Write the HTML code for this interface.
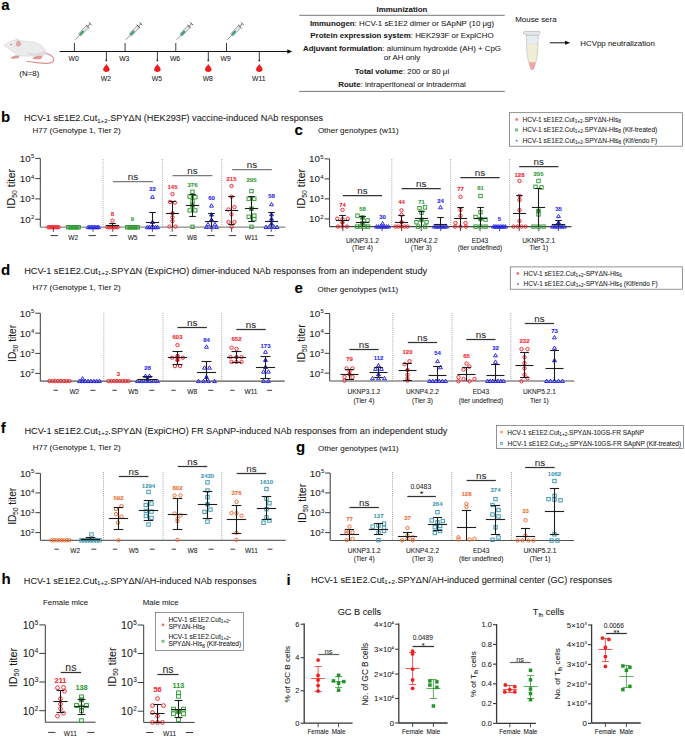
<!DOCTYPE html>
<html><head><meta charset="utf-8"><style>
html,body{margin:0;padding:0;background:#fff;width:685px;height:737px;overflow:hidden}
svg{display:block}
text{font-family:"Liberation Sans",sans-serif}
</style></head><body>
<svg width="685" height="737" viewBox="0 0 685 737">
<rect width="685" height="737" fill="#fff"/>
<text x="1.20" y="9.50" font-size="15" font-weight="bold" fill="#000" stroke="#000" stroke-width="0.07">a</text>
<g>
<path d="M44.6 53.2 C48.5 54 52.5 55.5 53.6 58.6 C54.4 61.4 52 63.2 47.5 63.3 C41 63.3 33 61.8 27.1 61.5" fill="none" stroke="#d9938f" stroke-width="1.25" stroke-linecap="round"/>
<path d="M14.6 41.2 C15.2 39.2 17 38.4 18.2 39.6 C18.8 40.4 18.4 41.6 17.6 42.2 Z" fill="#dedede" stroke="#c8c8c8" stroke-width="0.3"/>
<path d="M5.0 45.2 C6.5 43 9.5 41 13 40.4 C17 39.8 21 40.6 25.4 41.1 C30 41.3 34 41.6 38 43.6 C42.5 45.8 45.8 49 45.9 51.8 C46 54 44.6 55.6 42 56.2 C38 56.6 34.5 56.4 31.5 56.1 C27 56.3 22.5 56 19 55.4 C16.5 54.8 14.8 53.6 14 52.3 C11.5 50.8 9 49.3 7.6 48.2 C6.2 47.5 5.1 46.6 5.0 45.2 Z" fill="#ebebeb" stroke="#c9c9c9" stroke-width="0.35"/>
<path d="M27 52.5 C32 53.8 38 53.6 43.5 51.2 C45.2 50.6 45.8 52.5 44.6 54.3 C43.2 55.6 40 56.3 35 56.3 C31 56.3 28 55.5 27 52.5 Z" fill="#dcdcdc"/>
<path d="M16.4 45.8 C15.8 43.6 16.2 41.6 18 41.1 C20.2 40.7 21.2 42.8 20.7 44.8 C20.2 46.2 17.8 46.8 16.4 45.8 Z" fill="#e2a8a6" stroke="#cf9290" stroke-width="0.3"/>
<path d="M11 57.6 C12.6 56 15.4 55.4 18.2 55.6 C19.8 55.8 19.8 57.3 18.3 58.1 C16 58.8 13 58.8 11.4 58.5 C10.7 58.3 10.6 57.9 11 57.6 Z" fill="#dd9a96"/>
<path d="M33 57.8 C34.8 56 38.5 55.4 41.6 55.8 C42.8 56.5 42.4 58.2 40.6 59 C38.2 59.6 35 59.5 33.4 59.1 C32.7 58.8 32.6 58.2 33 57.8 Z" fill="#dd9a96"/>
<circle cx="11.1" cy="44.6" r="0.65" fill="#c8202a"/>
<path d="M5.2 45.6 L4.4 46.2" stroke="#e6a4a4" stroke-width="0.9"/>
<path d="M6 43.5 L3.8 41.6 M6.2 44.2 L3.6 43.6" stroke="#d0d0d0" stroke-width="0.3"/>
</g>
<text x="29.30" y="75.50" font-size="7.9" text-anchor="middle" fill="#1a1a1a" stroke="#1a1a1a" stroke-width="0.07">(N=8)</text>
<line x1="59.60" y1="51.50" x2="288.00" y2="51.50" stroke="#111" stroke-width="1.0"/>
<path d="M292.2 51.5 L287.3 49.3 L287.3 53.7 Z" fill="#111"/>
<line x1="74.40" y1="43.00" x2="74.40" y2="51.50" stroke="#222" stroke-width="0.9"/>
<text x="73.60" y="60.80" font-size="6.8" text-anchor="middle" fill="#1a1a1a" stroke="#1a1a1a" stroke-width="0.07">W0</text>
<g transform="translate(75.20 39.8) rotate(-47)">
<line x1="0" y1="0" x2="6.5" y2="0" stroke="#555" stroke-width="0.6"/>
<rect x="6.5" y="-1.5" width="11.5" height="3" fill="#e6e6e6" stroke="#666" stroke-width="0.5"/>
<rect x="7" y="-1.1" width="5" height="2.2" fill="#3aa36a"/>
<line x1="18" y1="0" x2="22" y2="0" stroke="#555" stroke-width="0.8"/>
<line x1="18.3" y1="-2.3" x2="18.3" y2="2.3" stroke="#444" stroke-width="0.8"/>
<line x1="22" y1="-2" x2="22" y2="2" stroke="#444" stroke-width="0.8"/>
</g>
<line x1="125.10" y1="43.00" x2="125.10" y2="51.50" stroke="#222" stroke-width="0.9"/>
<text x="124.30" y="60.80" font-size="6.8" text-anchor="middle" fill="#1a1a1a" stroke="#1a1a1a" stroke-width="0.07">W3</text>
<g transform="translate(125.90 39.8) rotate(-47)">
<line x1="0" y1="0" x2="6.5" y2="0" stroke="#555" stroke-width="0.6"/>
<rect x="6.5" y="-1.5" width="11.5" height="3" fill="#e6e6e6" stroke="#666" stroke-width="0.5"/>
<rect x="7" y="-1.1" width="5" height="2.2" fill="#3aa36a"/>
<line x1="18" y1="0" x2="22" y2="0" stroke="#555" stroke-width="0.8"/>
<line x1="18.3" y1="-2.3" x2="18.3" y2="2.3" stroke="#444" stroke-width="0.8"/>
<line x1="22" y1="-2" x2="22" y2="2" stroke="#444" stroke-width="0.8"/>
</g>
<line x1="175.80" y1="43.00" x2="175.80" y2="51.50" stroke="#222" stroke-width="0.9"/>
<text x="175.00" y="60.80" font-size="6.8" text-anchor="middle" fill="#1a1a1a" stroke="#1a1a1a" stroke-width="0.07">W6</text>
<g transform="translate(176.60 39.8) rotate(-47)">
<line x1="0" y1="0" x2="6.5" y2="0" stroke="#555" stroke-width="0.6"/>
<rect x="6.5" y="-1.5" width="11.5" height="3" fill="#e6e6e6" stroke="#666" stroke-width="0.5"/>
<rect x="7" y="-1.1" width="5" height="2.2" fill="#3aa36a"/>
<line x1="18" y1="0" x2="22" y2="0" stroke="#555" stroke-width="0.8"/>
<line x1="18.3" y1="-2.3" x2="18.3" y2="2.3" stroke="#444" stroke-width="0.8"/>
<line x1="22" y1="-2" x2="22" y2="2" stroke="#444" stroke-width="0.8"/>
</g>
<line x1="226.50" y1="43.00" x2="226.50" y2="51.50" stroke="#222" stroke-width="0.9"/>
<text x="225.70" y="60.80" font-size="6.8" text-anchor="middle" fill="#1a1a1a" stroke="#1a1a1a" stroke-width="0.07">W9</text>
<g transform="translate(227.30 39.8) rotate(-47)">
<line x1="0" y1="0" x2="6.5" y2="0" stroke="#555" stroke-width="0.6"/>
<rect x="6.5" y="-1.5" width="11.5" height="3" fill="#e6e6e6" stroke="#666" stroke-width="0.5"/>
<rect x="7" y="-1.1" width="5" height="2.2" fill="#3aa36a"/>
<line x1="18" y1="0" x2="22" y2="0" stroke="#555" stroke-width="0.8"/>
<line x1="18.3" y1="-2.3" x2="18.3" y2="2.3" stroke="#444" stroke-width="0.8"/>
<line x1="22" y1="-2" x2="22" y2="2" stroke="#444" stroke-width="0.8"/>
</g>
<line x1="106.40" y1="51.50" x2="106.40" y2="60.30" stroke="#222" stroke-width="0.9"/>
<circle cx="106.40" cy="60.4" r="0.9" fill="#222"/>
<path d="M106.40 63.9 C107.50 65.8 109.70 67.6 109.70 69.6 C109.70 71.2 108.10 72.0 106.40 72.0 C104.70 72.0 103.10 71.2 103.10 69.6 C103.10 67.6 105.30 65.8 106.40 63.9 Z" fill="#ee1c1c"/>
<text x="105.90" y="81.30" font-size="6.8" text-anchor="middle" fill="#1a1a1a" stroke="#1a1a1a" stroke-width="0.07">W2</text>
<line x1="157.40" y1="51.50" x2="157.40" y2="60.30" stroke="#222" stroke-width="0.9"/>
<circle cx="157.40" cy="60.4" r="0.9" fill="#222"/>
<path d="M157.40 63.9 C158.50 65.8 160.70 67.6 160.70 69.6 C160.70 71.2 159.10 72.0 157.40 72.0 C155.70 72.0 154.10 71.2 154.10 69.6 C154.10 67.6 156.30 65.8 157.40 63.9 Z" fill="#ee1c1c"/>
<text x="156.90" y="81.30" font-size="6.8" text-anchor="middle" fill="#1a1a1a" stroke="#1a1a1a" stroke-width="0.07">W5</text>
<line x1="208.30" y1="51.50" x2="208.30" y2="60.30" stroke="#222" stroke-width="0.9"/>
<circle cx="208.30" cy="60.4" r="0.9" fill="#222"/>
<path d="M208.30 63.9 C209.40 65.8 211.60 67.6 211.60 69.6 C211.60 71.2 210.00 72.0 208.30 72.0 C206.60 72.0 205.00 71.2 205.00 69.6 C205.00 67.6 207.20 65.8 208.30 63.9 Z" fill="#ee1c1c"/>
<text x="207.80" y="81.30" font-size="6.8" text-anchor="middle" fill="#1a1a1a" stroke="#1a1a1a" stroke-width="0.07">W8</text>
<line x1="259.30" y1="51.50" x2="259.30" y2="60.30" stroke="#222" stroke-width="0.9"/>
<circle cx="259.30" cy="60.4" r="0.9" fill="#222"/>
<path d="M259.30 63.9 C260.40 65.8 262.60 67.6 262.60 69.6 C262.60 71.2 261.00 72.0 259.30 72.0 C257.60 72.0 256.00 71.2 256.00 69.6 C256.00 67.6 258.20 65.8 259.30 63.9 Z" fill="#ee1c1c"/>
<text x="258.80" y="81.30" font-size="6.8" text-anchor="middle" fill="#1a1a1a" stroke="#1a1a1a" stroke-width="0.07">W11</text>
<line x1="299.20" y1="15.30" x2="504.80" y2="15.30" stroke="#555" stroke-width="0.8"/>
<line x1="299.20" y1="91.40" x2="504.80" y2="91.40" stroke="#555" stroke-width="0.8"/>
<text x="402.00" y="11.60" font-size="7.9" text-anchor="middle" font-weight="bold" fill="#1a1a1a" stroke="#1a1a1a" stroke-width="0.07">Immunization</text>
<text x="402.00" y="25.60" font-size="7.9" text-anchor="middle" fill="#1a1a1a" stroke="#1a1a1a" stroke-width="0.07"><tspan font-weight="bold">Immunogen</tspan>: HCV-1 sE1E2 dimer or SApNP (10 μg)</text>
<text x="402.00" y="38.20" font-size="7.9" text-anchor="middle" fill="#1a1a1a" stroke="#1a1a1a" stroke-width="0.07"><tspan font-weight="bold">Protein expression system</tspan>: HEK293F or ExpiCHO</text>
<text x="402.00" y="51.30" font-size="7.9" text-anchor="middle" fill="#1a1a1a" stroke="#1a1a1a" stroke-width="0.07"><tspan font-weight="bold">Adjuvant formulation</tspan>: aluminum hydroxide (AH) + CpG</text>
<text x="402.00" y="74.30" font-size="7.9" text-anchor="middle" fill="#1a1a1a" stroke="#1a1a1a" stroke-width="0.07"><tspan font-weight="bold">Total volume</tspan>: 200 or 80 μl</text>
<text x="402.00" y="86.80" font-size="7.9" text-anchor="middle" fill="#1a1a1a" stroke="#1a1a1a" stroke-width="0.07"><tspan font-weight="bold">Route</tspan>: intraperitoneal or intradermal</text>
<text x="402.00" y="60.30" font-size="7.9" text-anchor="middle" fill="#1a1a1a" stroke="#1a1a1a" stroke-width="0.07">or AH only</text>
<text x="515.30" y="21.50" font-size="7.9" fill="#1a1a1a" stroke="#1a1a1a" stroke-width="0.07">Mouse sera</text>
<defs><clipPath id="tubeclip"><path d="M526.3 34.6 L538.3 34.6 L537.9 50 C537.4 57 535.6 64 533.6 69.4 L531.0 69.4 C529.0 64 527.2 57 526.7 50 Z"/></clipPath></defs>
<g>
<g clip-path="url(#tubeclip)">
<rect x="525" y="34" width="15" height="10.2" fill="#e6eef0"/>
<rect x="525" y="44.2" width="15" height="18" fill="#efefd6"/>
<rect x="525" y="62.2" width="15" height="8" fill="#f4a2a6"/>
<line x1="525" y1="44.2" x2="540" y2="44.2" stroke="#d8d8b8" stroke-width="0.4"/>
</g>
<path d="M526.3 34.6 L538.3 34.6 L537.9 50 C537.4 57 535.6 64 533.6 69.4 L531.0 69.4 C529.0 64 527.2 57 526.7 50 Z" fill="none" stroke="#b4b4b4" stroke-width="0.55"/>
<path d="M523.2 32.2 L524.2 31.4 L539.6 31.4 L539.9 33.8 L538.6 35.2 L526.0 35.2 L524.6 33.8 L523.2 33.6 Z" fill="#e4e8ea" stroke="#9a9a9a" stroke-width="0.5"/>
<line x1="535.6" y1="44.6" x2="537.4" y2="44.6" stroke="#aaa" stroke-width="0.35"/>
<line x1="535.6" y1="51.4" x2="537.2" y2="51.4" stroke="#aaa" stroke-width="0.35"/>
</g>
<line x1="549.70" y1="42.80" x2="566.50" y2="42.80" stroke="#111" stroke-width="1.0"/>
<path d="M570.3 42.8 L565 40.8 L565 44.8 Z" fill="#111"/>
<text x="580.30" y="45.50" font-size="7.9" fill="#1a1a1a" stroke="#1a1a1a" stroke-width="0.07">HCVpp neutralization</text>
<text x="1.00" y="121.80" font-size="15" font-weight="bold" fill="#000" stroke="#000" stroke-width="0.07">b</text>
<text x="24.00" y="120.80" font-size="9.1" fill="#1a1a1a" stroke="#1a1a1a" stroke-width="0.07" textLength="299.2" lengthAdjust="spacingAndGlyphs">HCV-1 sE1E2.Cut<tspan font-size="6.19" dy="1.8">1+2</tspan><tspan dy="-1.8">.SPYΔN (HEK293F) vaccine-induced NAb responses</tspan></text>
<text x="32.60" y="132.80" font-size="8.0" fill="#1a1a1a" stroke="#1a1a1a" stroke-width="0.07">H77 (Genotype 1, Tier 2)</text>
<line x1="40.30" y1="158.40" x2="40.30" y2="227.20" stroke="#3a3a3a" stroke-width="1.0"/>
<line x1="35.30" y1="158.40" x2="40.30" y2="158.40" stroke="#3a3a3a" stroke-width="1.0"/>
<text x="34.30" y="161.93" font-size="9.8" text-anchor="end" fill="#1a1a1a" stroke="#1a1a1a" stroke-width="0.07">10<tspan font-size="5.88" dx="0.3" dy="-3.63">5</tspan></text>
<line x1="35.30" y1="178.60" x2="40.30" y2="178.60" stroke="#3a3a3a" stroke-width="1.0"/>
<text x="34.30" y="182.13" font-size="9.8" text-anchor="end" fill="#1a1a1a" stroke="#1a1a1a" stroke-width="0.07">10<tspan font-size="5.88" dx="0.3" dy="-3.63">4</tspan></text>
<line x1="35.30" y1="198.90" x2="40.30" y2="198.90" stroke="#3a3a3a" stroke-width="1.0"/>
<text x="34.30" y="202.43" font-size="9.8" text-anchor="end" fill="#1a1a1a" stroke="#1a1a1a" stroke-width="0.07">10<tspan font-size="5.88" dx="0.3" dy="-3.63">3</tspan></text>
<line x1="35.30" y1="219.20" x2="40.30" y2="219.20" stroke="#3a3a3a" stroke-width="1.0"/>
<text x="34.30" y="222.73" font-size="9.8" text-anchor="end" fill="#1a1a1a" stroke="#1a1a1a" stroke-width="0.07">10<tspan font-size="5.88" dx="0.3" dy="-3.63">2</tspan></text>
<line x1="40.30" y1="227.20" x2="285.50" y2="227.20" stroke="#8a8a8a" stroke-width="1.3"/>
<line x1="103.00" y1="159.00" x2="103.00" y2="227.20" stroke="#8a8a8a" stroke-width="0.75" stroke-dasharray="1 1.1"/>
<line x1="162.40" y1="159.00" x2="162.40" y2="227.20" stroke="#8a8a8a" stroke-width="0.75" stroke-dasharray="1 1.1"/>
<line x1="221.80" y1="159.00" x2="221.80" y2="227.20" stroke="#8a8a8a" stroke-width="0.75" stroke-dasharray="1 1.1"/>
<text x="0.00" y="0.00" font-size="11.0" text-anchor="middle" fill="#1a1a1a" stroke="#1a1a1a" stroke-width="0.07" transform="translate(15.30 188.80) rotate(-90)">ID<tspan font-size="6.82" dy="2">50</tspan><tspan dy="-2"> titer</tspan></text>
<circle cx="48.30" cy="227.20" r="1.7" fill="none" stroke="#f5222a" stroke-width="0.95"/>
<circle cx="49.79" cy="227.20" r="1.7" fill="none" stroke="#f5222a" stroke-width="0.95"/>
<circle cx="51.27" cy="227.20" r="1.7" fill="none" stroke="#f5222a" stroke-width="0.95"/>
<circle cx="52.76" cy="227.20" r="1.7" fill="none" stroke="#f5222a" stroke-width="0.95"/>
<circle cx="54.24" cy="227.20" r="1.7" fill="none" stroke="#f5222a" stroke-width="0.95"/>
<circle cx="55.73" cy="227.20" r="1.7" fill="none" stroke="#f5222a" stroke-width="0.95"/>
<circle cx="57.21" cy="227.20" r="1.7" fill="none" stroke="#f5222a" stroke-width="0.95"/>
<circle cx="58.70" cy="227.20" r="1.7" fill="none" stroke="#f5222a" stroke-width="0.95"/>
<rect x="66.60" y="225.50" width="3.40" height="3.40" fill="none" stroke="#2f9a32" stroke-width="0.95"/>
<rect x="68.09" y="225.50" width="3.40" height="3.40" fill="none" stroke="#2f9a32" stroke-width="0.95"/>
<rect x="69.57" y="225.50" width="3.40" height="3.40" fill="none" stroke="#2f9a32" stroke-width="0.95"/>
<rect x="71.06" y="225.50" width="3.40" height="3.40" fill="none" stroke="#2f9a32" stroke-width="0.95"/>
<rect x="72.54" y="225.50" width="3.40" height="3.40" fill="none" stroke="#2f9a32" stroke-width="0.95"/>
<rect x="74.03" y="225.50" width="3.40" height="3.40" fill="none" stroke="#2f9a32" stroke-width="0.95"/>
<rect x="75.51" y="225.50" width="3.40" height="3.40" fill="none" stroke="#2f9a32" stroke-width="0.95"/>
<rect x="77.00" y="225.50" width="3.40" height="3.40" fill="none" stroke="#2f9a32" stroke-width="0.95"/>
<path d="M88.30 225.24L90.25 228.67L86.34 228.67Z" fill="none" stroke="#2424f0" stroke-width="0.95"/>
<path d="M89.79 225.24L91.74 228.67L87.83 228.67Z" fill="none" stroke="#2424f0" stroke-width="0.95"/>
<path d="M91.27 225.24L93.23 228.67L89.32 228.67Z" fill="none" stroke="#2424f0" stroke-width="0.95"/>
<path d="M92.76 225.24L94.71 228.67L90.80 228.67Z" fill="none" stroke="#2424f0" stroke-width="0.95"/>
<path d="M94.24 225.24L96.20 228.67L92.29 228.67Z" fill="none" stroke="#2424f0" stroke-width="0.95"/>
<path d="M95.73 225.24L97.68 228.67L93.77 228.67Z" fill="none" stroke="#2424f0" stroke-width="0.95"/>
<path d="M97.21 225.24L99.17 228.67L95.26 228.67Z" fill="none" stroke="#2424f0" stroke-width="0.95"/>
<path d="M98.70 225.24L100.66 228.67L96.75 228.67Z" fill="none" stroke="#2424f0" stroke-width="0.95"/>
<line x1="53.40" y1="227.20" x2="53.40" y2="231.80" stroke="#3a3a3a" stroke-width="0.9"/>
<line x1="93.00" y1="227.20" x2="93.00" y2="231.80" stroke="#3a3a3a" stroke-width="0.9"/>
<line x1="112.80" y1="227.20" x2="112.80" y2="231.80" stroke="#3a3a3a" stroke-width="0.9"/>
<line x1="152.40" y1="227.20" x2="152.40" y2="231.80" stroke="#3a3a3a" stroke-width="0.9"/>
<line x1="172.20" y1="227.20" x2="172.20" y2="231.80" stroke="#3a3a3a" stroke-width="0.9"/>
<line x1="211.80" y1="227.20" x2="211.80" y2="231.80" stroke="#3a3a3a" stroke-width="0.9"/>
<line x1="231.60" y1="227.20" x2="231.60" y2="231.80" stroke="#3a3a3a" stroke-width="0.9"/>
<line x1="271.20" y1="227.20" x2="271.20" y2="231.80" stroke="#3a3a3a" stroke-width="0.9"/>
<circle cx="107.30" cy="227.20" r="1.7" fill="none" stroke="#f5222a" stroke-width="0.95"/>
<circle cx="109.03" cy="227.20" r="1.7" fill="none" stroke="#f5222a" stroke-width="0.95"/>
<circle cx="110.77" cy="227.20" r="1.7" fill="none" stroke="#f5222a" stroke-width="0.95"/>
<circle cx="112.50" cy="227.20" r="1.7" fill="none" stroke="#f5222a" stroke-width="0.95"/>
<circle cx="114.23" cy="227.20" r="1.7" fill="none" stroke="#f5222a" stroke-width="0.95"/>
<circle cx="115.97" cy="227.20" r="1.7" fill="none" stroke="#f5222a" stroke-width="0.95"/>
<circle cx="117.70" cy="227.20" r="1.7" fill="none" stroke="#f5222a" stroke-width="0.95"/>
<circle cx="112.50" cy="220.60" r="1.7" fill="none" stroke="#f5222a" stroke-width="0.95"/>
<line x1="112.50" y1="223.50" x2="112.50" y2="227.20" stroke="#1e1e1e" stroke-width="1.1"/>
<line x1="105.90" y1="225.50" x2="119.10" y2="225.50" stroke="#1e1e1e" stroke-width="1.1"/>
<line x1="109.20" y1="223.50" x2="115.80" y2="223.50" stroke="#1e1e1e" stroke-width="1.1"/>
<text x="112.50" y="215.70" font-size="6.0" text-anchor="middle" font-weight="bold" fill="#f5222a" stroke="#f5222a" stroke-width="0.07">8</text>
<rect x="125.60" y="225.50" width="3.40" height="3.40" fill="none" stroke="#2f9a32" stroke-width="0.95"/>
<rect x="127.09" y="225.50" width="3.40" height="3.40" fill="none" stroke="#2f9a32" stroke-width="0.95"/>
<rect x="128.57" y="225.50" width="3.40" height="3.40" fill="none" stroke="#2f9a32" stroke-width="0.95"/>
<rect x="130.06" y="225.50" width="3.40" height="3.40" fill="none" stroke="#2f9a32" stroke-width="0.95"/>
<rect x="131.54" y="225.50" width="3.40" height="3.40" fill="none" stroke="#2f9a32" stroke-width="0.95"/>
<rect x="133.03" y="225.50" width="3.40" height="3.40" fill="none" stroke="#2f9a32" stroke-width="0.95"/>
<rect x="134.51" y="225.50" width="3.40" height="3.40" fill="none" stroke="#2f9a32" stroke-width="0.95"/>
<rect x="136.00" y="225.50" width="3.40" height="3.40" fill="none" stroke="#2f9a32" stroke-width="0.95"/>
<text x="132.50" y="221.00" font-size="6.0" text-anchor="middle" font-weight="bold" fill="#2f9a32" stroke="#2f9a32" stroke-width="0.07">9</text>
<path d="M147.30 225.24L149.26 228.67L145.34 228.67Z" fill="none" stroke="#2424f0" stroke-width="0.95"/>
<path d="M149.38 225.24L151.34 228.67L147.42 228.67Z" fill="none" stroke="#2424f0" stroke-width="0.95"/>
<path d="M151.46 225.24L153.42 228.67L149.50 228.67Z" fill="none" stroke="#2424f0" stroke-width="0.95"/>
<path d="M153.54 225.24L155.50 228.67L151.58 228.67Z" fill="none" stroke="#2424f0" stroke-width="0.95"/>
<path d="M155.62 225.24L157.58 228.67L153.66 228.67Z" fill="none" stroke="#2424f0" stroke-width="0.95"/>
<path d="M157.70 225.24L159.66 228.67L155.74 228.67Z" fill="none" stroke="#2424f0" stroke-width="0.95"/>
<path d="M152.50 194.94L154.46 198.37L150.54 198.37Z" fill="none" stroke="#2424f0" stroke-width="0.95"/>
<path d="M152.50 220.14L154.46 223.57L150.54 223.57Z" fill="#2424f0" stroke="#2424f0" stroke-width="0.95"/>
<line x1="152.50" y1="212.50" x2="152.50" y2="227.20" stroke="#1e1e1e" stroke-width="1.1"/>
<line x1="145.90" y1="222.50" x2="159.10" y2="222.50" stroke="#1e1e1e" stroke-width="1.1"/>
<line x1="149.20" y1="212.50" x2="155.80" y2="212.50" stroke="#1e1e1e" stroke-width="1.1"/>
<text x="152.50" y="190.50" font-size="6.0" text-anchor="middle" font-weight="bold" fill="#2424f0" stroke="#2424f0" stroke-width="0.07">22</text>
<circle cx="172.50" cy="194.10" r="1.7" fill="none" stroke="#f5222a" stroke-width="0.95"/>
<circle cx="170.00" cy="201.90" r="1.7" fill="none" stroke="#f5222a" stroke-width="0.95"/>
<circle cx="175.00" cy="202.60" r="1.7" fill="none" stroke="#f5222a" stroke-width="0.95"/>
<circle cx="172.50" cy="213.30" r="1.7" fill="#f5222a" stroke="#f5222a" stroke-width="0.95"/>
<circle cx="172.50" cy="217.40" r="1.7" fill="none" stroke="#f5222a" stroke-width="0.95"/>
<circle cx="172.50" cy="221.20" r="1.7" fill="none" stroke="#f5222a" stroke-width="0.95"/>
<circle cx="169.50" cy="226.60" r="1.7" fill="none" stroke="#f5222a" stroke-width="0.95"/>
<circle cx="175.50" cy="226.60" r="1.7" fill="none" stroke="#f5222a" stroke-width="0.95"/>
<line x1="172.50" y1="201.50" x2="172.50" y2="227.20" stroke="#1e1e1e" stroke-width="1.1"/>
<line x1="165.90" y1="213.50" x2="179.10" y2="213.50" stroke="#1e1e1e" stroke-width="1.1"/>
<line x1="169.20" y1="201.50" x2="175.80" y2="201.50" stroke="#1e1e1e" stroke-width="1.1"/>
<text x="172.50" y="189.00" font-size="6.0" text-anchor="middle" font-weight="bold" fill="#f5222a" stroke="#f5222a" stroke-width="0.07">145</text>
<rect x="190.80" y="190.10" width="3.40" height="3.40" fill="none" stroke="#2f9a32" stroke-width="0.95"/>
<rect x="188.00" y="194.90" width="3.40" height="3.40" fill="none" stroke="#2f9a32" stroke-width="0.95"/>
<rect x="193.60" y="195.50" width="3.40" height="3.40" fill="none" stroke="#2f9a32" stroke-width="0.95"/>
<rect x="190.80" y="199.60" width="3.40" height="3.40" fill="none" stroke="#2f9a32" stroke-width="0.95"/>
<rect x="190.80" y="203.80" width="3.40" height="3.40" fill="#2f9a32" stroke="#2f9a32" stroke-width="0.95"/>
<rect x="188.00" y="208.70" width="3.40" height="3.40" fill="none" stroke="#2f9a32" stroke-width="0.95"/>
<rect x="193.60" y="208.70" width="3.40" height="3.40" fill="none" stroke="#2f9a32" stroke-width="0.95"/>
<rect x="190.80" y="225.10" width="3.40" height="3.40" fill="none" stroke="#2f9a32" stroke-width="0.95"/>
<line x1="192.50" y1="194.50" x2="192.50" y2="216.50" stroke="#1e1e1e" stroke-width="1.1"/>
<line x1="185.90" y1="205.50" x2="199.10" y2="205.50" stroke="#1e1e1e" stroke-width="1.1"/>
<line x1="189.20" y1="194.50" x2="195.80" y2="194.50" stroke="#1e1e1e" stroke-width="1.1"/>
<line x1="189.20" y1="216.50" x2="195.80" y2="216.50" stroke="#1e1e1e" stroke-width="1.1"/>
<text x="192.50" y="186.70" font-size="6.0" text-anchor="middle" font-weight="bold" fill="#2f9a32" stroke="#2f9a32" stroke-width="0.07">376</text>
<path d="M211.50 203.74L213.46 207.17L209.54 207.17Z" fill="none" stroke="#2424f0" stroke-width="0.95"/>
<path d="M211.50 212.64L213.46 216.07L209.54 216.07Z" fill="#2424f0" stroke="#2424f0" stroke-width="0.95"/>
<path d="M211.50 217.74L213.46 221.17L209.54 221.17Z" fill="#2424f0" stroke="#2424f0" stroke-width="0.95"/>
<path d="M208.00 222.34L209.96 225.77L206.04 225.77Z" fill="none" stroke="#2424f0" stroke-width="0.95"/>
<path d="M215.00 222.34L216.96 225.77L213.04 225.77Z" fill="none" stroke="#2424f0" stroke-width="0.95"/>
<path d="M206.50 225.04L208.46 228.47L204.54 228.47Z" fill="none" stroke="#2424f0" stroke-width="0.95"/>
<path d="M211.50 225.04L213.46 228.47L209.54 228.47Z" fill="none" stroke="#2424f0" stroke-width="0.95"/>
<path d="M216.50 225.04L218.46 228.47L214.54 228.47Z" fill="none" stroke="#2424f0" stroke-width="0.95"/>
<line x1="211.50" y1="213.50" x2="211.50" y2="227.20" stroke="#1e1e1e" stroke-width="1.1"/>
<line x1="204.90" y1="221.50" x2="218.10" y2="221.50" stroke="#1e1e1e" stroke-width="1.1"/>
<line x1="208.20" y1="213.50" x2="214.80" y2="213.50" stroke="#1e1e1e" stroke-width="1.1"/>
<text x="211.50" y="200.40" font-size="6.0" text-anchor="middle" font-weight="bold" fill="#2424f0" stroke="#2424f0" stroke-width="0.07">60</text>
<circle cx="231.50" cy="186.00" r="1.7" fill="none" stroke="#f5222a" stroke-width="0.95"/>
<circle cx="231.50" cy="196.70" r="1.7" fill="none" stroke="#f5222a" stroke-width="0.95"/>
<circle cx="234.50" cy="207.10" r="1.7" fill="none" stroke="#f5222a" stroke-width="0.95"/>
<circle cx="228.50" cy="209.50" r="1.7" fill="none" stroke="#f5222a" stroke-width="0.95"/>
<circle cx="231.50" cy="214.40" r="1.7" fill="none" stroke="#f5222a" stroke-width="0.95"/>
<circle cx="228.50" cy="222.00" r="1.7" fill="none" stroke="#f5222a" stroke-width="0.95"/>
<circle cx="234.50" cy="222.00" r="1.7" fill="none" stroke="#f5222a" stroke-width="0.95"/>
<circle cx="231.50" cy="226.80" r="1.7" fill="none" stroke="#f5222a" stroke-width="0.95"/>
<line x1="231.50" y1="196.50" x2="231.50" y2="224.50" stroke="#1e1e1e" stroke-width="1.1"/>
<line x1="224.90" y1="210.50" x2="238.10" y2="210.50" stroke="#1e1e1e" stroke-width="1.1"/>
<line x1="228.20" y1="196.50" x2="234.80" y2="196.50" stroke="#1e1e1e" stroke-width="1.1"/>
<line x1="228.20" y1="224.50" x2="234.80" y2="224.50" stroke="#1e1e1e" stroke-width="1.1"/>
<text x="231.50" y="181.40" font-size="6.0" text-anchor="middle" font-weight="bold" fill="#f5222a" stroke="#f5222a" stroke-width="0.07">215</text>
<rect x="249.80" y="189.40" width="3.40" height="3.40" fill="none" stroke="#2f9a32" stroke-width="0.95"/>
<rect x="247.00" y="197.00" width="3.40" height="3.40" fill="none" stroke="#2f9a32" stroke-width="0.95"/>
<rect x="252.60" y="197.00" width="3.40" height="3.40" fill="none" stroke="#2f9a32" stroke-width="0.95"/>
<rect x="249.80" y="207.00" width="3.40" height="3.40" fill="#2f9a32" stroke="#2f9a32" stroke-width="0.95"/>
<rect x="247.00" y="215.10" width="3.40" height="3.40" fill="none" stroke="#2f9a32" stroke-width="0.95"/>
<rect x="252.60" y="213.90" width="3.40" height="3.40" fill="none" stroke="#2f9a32" stroke-width="0.95"/>
<rect x="252.60" y="217.50" width="3.40" height="3.40" fill="none" stroke="#2f9a32" stroke-width="0.95"/>
<rect x="249.80" y="225.10" width="3.40" height="3.40" fill="none" stroke="#2f9a32" stroke-width="0.95"/>
<line x1="251.50" y1="196.50" x2="251.50" y2="221.50" stroke="#1e1e1e" stroke-width="1.1"/>
<line x1="244.90" y1="208.50" x2="258.10" y2="208.50" stroke="#1e1e1e" stroke-width="1.1"/>
<line x1="248.20" y1="196.50" x2="254.80" y2="196.50" stroke="#1e1e1e" stroke-width="1.1"/>
<line x1="248.20" y1="221.50" x2="254.80" y2="221.50" stroke="#1e1e1e" stroke-width="1.1"/>
<text x="251.50" y="182.30" font-size="6.0" text-anchor="middle" font-weight="bold" fill="#2f9a32" stroke="#2f9a32" stroke-width="0.07">295</text>
<path d="M271.50 202.34L273.45 205.77L269.55 205.77Z" fill="none" stroke="#2424f0" stroke-width="0.95"/>
<path d="M271.50 212.44L273.45 215.87L269.55 215.87Z" fill="#2424f0" stroke="#2424f0" stroke-width="0.95"/>
<path d="M271.50 216.84L273.45 220.27L269.55 220.27Z" fill="#2424f0" stroke="#2424f0" stroke-width="0.95"/>
<path d="M271.50 221.54L273.45 224.97L269.55 224.97Z" fill="#2424f0" stroke="#2424f0" stroke-width="0.95"/>
<path d="M266.00 225.04L267.95 228.47L264.05 228.47Z" fill="none" stroke="#2424f0" stroke-width="0.95"/>
<path d="M269.00 225.04L270.95 228.47L267.05 228.47Z" fill="none" stroke="#2424f0" stroke-width="0.95"/>
<path d="M274.00 225.04L275.95 228.47L272.05 228.47Z" fill="none" stroke="#2424f0" stroke-width="0.95"/>
<path d="M277.00 225.04L278.95 228.47L275.05 228.47Z" fill="none" stroke="#2424f0" stroke-width="0.95"/>
<line x1="271.50" y1="212.50" x2="271.50" y2="227.20" stroke="#1e1e1e" stroke-width="1.1"/>
<line x1="264.90" y1="221.50" x2="278.10" y2="221.50" stroke="#1e1e1e" stroke-width="1.1"/>
<line x1="268.20" y1="212.50" x2="274.80" y2="212.50" stroke="#1e1e1e" stroke-width="1.1"/>
<text x="271.50" y="198.00" font-size="6.0" text-anchor="middle" font-weight="bold" fill="#2424f0" stroke="#2424f0" stroke-width="0.07">58</text>
<line x1="112.90" y1="181.50" x2="152.90" y2="181.50" stroke="#7a7a7a" stroke-width="1.25"/>
<text x="132.90" y="180.40" font-size="9.8" text-anchor="middle" fill="#2a2a2a" stroke="#2a2a2a" stroke-width="0.07">ns</text>
<line x1="172.60" y1="175.50" x2="212.40" y2="175.50" stroke="#7a7a7a" stroke-width="1.25"/>
<text x="192.50" y="174.40" font-size="9.8" text-anchor="middle" fill="#2a2a2a" stroke="#2a2a2a" stroke-width="0.07">ns</text>
<line x1="232.20" y1="169.50" x2="271.80" y2="169.50" stroke="#7a7a7a" stroke-width="1.25"/>
<text x="252.00" y="168.40" font-size="9.8" text-anchor="middle" fill="#2a2a2a" stroke="#2a2a2a" stroke-width="0.07">ns</text>
<text x="73.20" y="239.80" font-size="6.6" text-anchor="middle" fill="#1a1a1a" stroke="#1a1a1a" stroke-width="0.07">W2</text>
<line x1="50.50" y1="235.60" x2="57.90" y2="235.60" stroke="#3a3a3a" stroke-width="1.0"/>
<line x1="88.50" y1="235.60" x2="95.90" y2="235.60" stroke="#3a3a3a" stroke-width="1.0"/>
<text x="132.60" y="239.80" font-size="6.6" text-anchor="middle" fill="#1a1a1a" stroke="#1a1a1a" stroke-width="0.07">W5</text>
<line x1="109.90" y1="235.60" x2="117.30" y2="235.60" stroke="#3a3a3a" stroke-width="1.0"/>
<line x1="147.90" y1="235.60" x2="155.30" y2="235.60" stroke="#3a3a3a" stroke-width="1.0"/>
<text x="192.00" y="239.80" font-size="6.6" text-anchor="middle" fill="#1a1a1a" stroke="#1a1a1a" stroke-width="0.07">W8</text>
<line x1="169.30" y1="235.60" x2="176.70" y2="235.60" stroke="#3a3a3a" stroke-width="1.0"/>
<line x1="207.30" y1="235.60" x2="214.70" y2="235.60" stroke="#3a3a3a" stroke-width="1.0"/>
<text x="251.40" y="239.80" font-size="6.6" text-anchor="middle" fill="#1a1a1a" stroke="#1a1a1a" stroke-width="0.07">W11</text>
<line x1="228.70" y1="235.60" x2="236.10" y2="235.60" stroke="#3a3a3a" stroke-width="1.0"/>
<line x1="266.70" y1="235.60" x2="274.10" y2="235.60" stroke="#3a3a3a" stroke-width="1.0"/>
<text x="294.60" y="135.40" font-size="15" font-weight="bold" fill="#000" stroke="#000" stroke-width="0.07">c</text>
<text x="317.90" y="133.30" font-size="8.0" fill="#1a1a1a" stroke="#1a1a1a" stroke-width="0.07">Other genotypes (w11)</text>
<line x1="329.60" y1="158.90" x2="329.60" y2="226.60" stroke="#3a3a3a" stroke-width="1.0"/>
<line x1="324.60" y1="158.90" x2="329.60" y2="158.90" stroke="#3a3a3a" stroke-width="1.0"/>
<text x="323.60" y="162.43" font-size="9.8" text-anchor="end" fill="#1a1a1a" stroke="#1a1a1a" stroke-width="0.07">10<tspan font-size="5.88" dx="0.3" dy="-3.63">5</tspan></text>
<line x1="324.60" y1="178.90" x2="329.60" y2="178.90" stroke="#3a3a3a" stroke-width="1.0"/>
<text x="323.60" y="182.43" font-size="9.8" text-anchor="end" fill="#1a1a1a" stroke="#1a1a1a" stroke-width="0.07">10<tspan font-size="5.88" dx="0.3" dy="-3.63">4</tspan></text>
<line x1="324.60" y1="198.90" x2="329.60" y2="198.90" stroke="#3a3a3a" stroke-width="1.0"/>
<text x="323.60" y="202.43" font-size="9.8" text-anchor="end" fill="#1a1a1a" stroke="#1a1a1a" stroke-width="0.07">10<tspan font-size="5.88" dx="0.3" dy="-3.63">3</tspan></text>
<line x1="324.60" y1="218.90" x2="329.60" y2="218.90" stroke="#3a3a3a" stroke-width="1.0"/>
<text x="323.60" y="222.43" font-size="9.8" text-anchor="end" fill="#1a1a1a" stroke="#1a1a1a" stroke-width="0.07">10<tspan font-size="5.88" dx="0.3" dy="-3.63">2</tspan></text>
<line x1="329.60" y1="226.60" x2="571.40" y2="226.60" stroke="#444" stroke-width="1.1"/>
<line x1="391.80" y1="159.00" x2="391.80" y2="226.60" stroke="#8a8a8a" stroke-width="0.75" stroke-dasharray="1 1.1"/>
<line x1="450.60" y1="159.00" x2="450.60" y2="226.60" stroke="#8a8a8a" stroke-width="0.75" stroke-dasharray="1 1.1"/>
<line x1="509.60" y1="159.00" x2="509.60" y2="226.60" stroke="#8a8a8a" stroke-width="0.75" stroke-dasharray="1 1.1"/>
<line x1="342.80" y1="226.60" x2="342.80" y2="231.10" stroke="#3a3a3a" stroke-width="0.9"/>
<line x1="362.40" y1="226.60" x2="362.40" y2="231.10" stroke="#3a3a3a" stroke-width="0.9"/>
<line x1="382.00" y1="226.60" x2="382.00" y2="231.10" stroke="#3a3a3a" stroke-width="0.9"/>
<line x1="401.60" y1="226.60" x2="401.60" y2="231.10" stroke="#3a3a3a" stroke-width="0.9"/>
<line x1="421.20" y1="226.60" x2="421.20" y2="231.10" stroke="#3a3a3a" stroke-width="0.9"/>
<line x1="440.80" y1="226.60" x2="440.80" y2="231.10" stroke="#3a3a3a" stroke-width="0.9"/>
<line x1="460.40" y1="226.60" x2="460.40" y2="231.10" stroke="#3a3a3a" stroke-width="0.9"/>
<line x1="480.00" y1="226.60" x2="480.00" y2="231.10" stroke="#3a3a3a" stroke-width="0.9"/>
<line x1="499.60" y1="226.60" x2="499.60" y2="231.10" stroke="#3a3a3a" stroke-width="0.9"/>
<line x1="519.20" y1="226.60" x2="519.20" y2="231.10" stroke="#3a3a3a" stroke-width="0.9"/>
<line x1="538.80" y1="226.60" x2="538.80" y2="231.10" stroke="#3a3a3a" stroke-width="0.9"/>
<line x1="558.40" y1="226.60" x2="558.40" y2="231.10" stroke="#3a3a3a" stroke-width="0.9"/>
<text x="0.00" y="0.00" font-size="11.0" text-anchor="middle" fill="#1a1a1a" stroke="#1a1a1a" stroke-width="0.07" transform="translate(305.20 188.80) rotate(-90)">ID<tspan font-size="6.82" dy="2">50</tspan><tspan dy="-2"> titer</tspan></text>
<circle cx="342.50" cy="209.90" r="1.7" fill="none" stroke="#f5222a" stroke-width="0.95"/>
<circle cx="337.20" cy="218.70" r="1.7" fill="none" stroke="#f5222a" stroke-width="0.95"/>
<circle cx="342.50" cy="219.20" r="1.7" fill="none" stroke="#f5222a" stroke-width="0.95"/>
<circle cx="347.80" cy="218.70" r="1.7" fill="none" stroke="#f5222a" stroke-width="0.95"/>
<circle cx="342.50" cy="222.50" r="1.7" fill="#f5222a" stroke="#f5222a" stroke-width="0.95"/>
<circle cx="338.00" cy="226.60" r="1.7" fill="none" stroke="#f5222a" stroke-width="0.95"/>
<circle cx="342.50" cy="226.60" r="1.7" fill="none" stroke="#f5222a" stroke-width="0.95"/>
<circle cx="347.00" cy="226.60" r="1.7" fill="none" stroke="#f5222a" stroke-width="0.95"/>
<line x1="342.50" y1="215.50" x2="342.50" y2="226.60" stroke="#1e1e1e" stroke-width="1.1"/>
<line x1="335.90" y1="220.50" x2="349.10" y2="220.50" stroke="#1e1e1e" stroke-width="1.1"/>
<line x1="339.20" y1="215.50" x2="345.80" y2="215.50" stroke="#1e1e1e" stroke-width="1.1"/>
<text x="342.50" y="206.90" font-size="6.0" text-anchor="middle" font-weight="bold" fill="#f5222a" stroke="#f5222a" stroke-width="0.07">74</text>
<rect x="355.80" y="214.00" width="3.40" height="3.40" fill="none" stroke="#2f9a32" stroke-width="0.95"/>
<rect x="360.80" y="215.80" width="3.40" height="3.40" fill="#2f9a32" stroke="#2f9a32" stroke-width="0.95"/>
<rect x="365.80" y="218.70" width="3.40" height="3.40" fill="none" stroke="#2f9a32" stroke-width="0.95"/>
<rect x="360.80" y="221.70" width="3.40" height="3.40" fill="#2f9a32" stroke="#2f9a32" stroke-width="0.95"/>
<rect x="355.30" y="224.90" width="3.40" height="3.40" fill="none" stroke="#2f9a32" stroke-width="0.95"/>
<rect x="358.97" y="224.90" width="3.40" height="3.40" fill="none" stroke="#2f9a32" stroke-width="0.95"/>
<rect x="362.63" y="224.90" width="3.40" height="3.40" fill="none" stroke="#2f9a32" stroke-width="0.95"/>
<rect x="366.30" y="224.90" width="3.40" height="3.40" fill="none" stroke="#2f9a32" stroke-width="0.95"/>
<line x1="362.50" y1="216.50" x2="362.50" y2="226.60" stroke="#1e1e1e" stroke-width="1.1"/>
<line x1="355.90" y1="222.50" x2="369.10" y2="222.50" stroke="#1e1e1e" stroke-width="1.1"/>
<line x1="359.20" y1="216.50" x2="365.80" y2="216.50" stroke="#1e1e1e" stroke-width="1.1"/>
<text x="362.50" y="210.90" font-size="6.0" text-anchor="middle" font-weight="bold" fill="#2f9a32" stroke="#2f9a32" stroke-width="0.07">58</text>
<path d="M382.50 221.44L384.45 224.87L380.55 224.87Z" fill="none" stroke="#2424f0" stroke-width="0.95"/>
<path d="M376.50 224.64L378.45 228.07L374.55 228.07Z" fill="none" stroke="#2424f0" stroke-width="0.95"/>
<path d="M378.50 224.64L380.45 228.07L376.55 228.07Z" fill="none" stroke="#2424f0" stroke-width="0.95"/>
<path d="M380.50 224.64L382.45 228.07L378.55 228.07Z" fill="none" stroke="#2424f0" stroke-width="0.95"/>
<path d="M382.50 224.64L384.45 228.07L380.55 228.07Z" fill="none" stroke="#2424f0" stroke-width="0.95"/>
<path d="M384.50 224.64L386.45 228.07L382.55 228.07Z" fill="none" stroke="#2424f0" stroke-width="0.95"/>
<path d="M386.50 224.64L388.45 228.07L384.55 228.07Z" fill="none" stroke="#2424f0" stroke-width="0.95"/>
<path d="M388.50 224.64L390.45 228.07L386.55 228.07Z" fill="none" stroke="#2424f0" stroke-width="0.95"/>
<text x="382.50" y="219.30" font-size="6.0" text-anchor="middle" font-weight="bold" fill="#2424f0" stroke="#2424f0" stroke-width="0.07">30</text>
<circle cx="401.50" cy="210.30" r="1.7" fill="none" stroke="#f5222a" stroke-width="0.95"/>
<circle cx="401.50" cy="214.80" r="1.7" fill="none" stroke="#f5222a" stroke-width="0.95"/>
<circle cx="401.50" cy="222.20" r="1.7" fill="#f5222a" stroke="#f5222a" stroke-width="0.95"/>
<circle cx="395.50" cy="226.60" r="1.7" fill="none" stroke="#f5222a" stroke-width="0.95"/>
<circle cx="398.50" cy="226.60" r="1.7" fill="none" stroke="#f5222a" stroke-width="0.95"/>
<circle cx="401.50" cy="226.60" r="1.7" fill="none" stroke="#f5222a" stroke-width="0.95"/>
<circle cx="404.50" cy="226.60" r="1.7" fill="none" stroke="#f5222a" stroke-width="0.95"/>
<circle cx="407.50" cy="226.60" r="1.7" fill="none" stroke="#f5222a" stroke-width="0.95"/>
<line x1="401.50" y1="215.50" x2="401.50" y2="226.60" stroke="#1e1e1e" stroke-width="1.1"/>
<line x1="394.90" y1="222.50" x2="408.10" y2="222.50" stroke="#1e1e1e" stroke-width="1.1"/>
<line x1="398.20" y1="215.50" x2="404.80" y2="215.50" stroke="#1e1e1e" stroke-width="1.1"/>
<text x="401.50" y="204.40" font-size="6.0" text-anchor="middle" font-weight="bold" fill="#f5222a" stroke="#f5222a" stroke-width="0.07">44</text>
<rect x="417.80" y="206.50" width="3.40" height="3.40" fill="none" stroke="#2f9a32" stroke-width="0.95"/>
<rect x="423.30" y="205.70" width="3.40" height="3.40" fill="none" stroke="#2f9a32" stroke-width="0.95"/>
<rect x="419.80" y="210.90" width="3.40" height="3.40" fill="none" stroke="#2f9a32" stroke-width="0.95"/>
<rect x="419.80" y="218.20" width="3.40" height="3.40" fill="#2f9a32" stroke="#2f9a32" stroke-width="0.95"/>
<rect x="414.80" y="220.50" width="3.40" height="3.40" fill="none" stroke="#2f9a32" stroke-width="0.95"/>
<rect x="424.80" y="220.50" width="3.40" height="3.40" fill="none" stroke="#2f9a32" stroke-width="0.95"/>
<rect x="416.30" y="224.90" width="3.40" height="3.40" fill="none" stroke="#2f9a32" stroke-width="0.95"/>
<rect x="423.30" y="224.90" width="3.40" height="3.40" fill="none" stroke="#2f9a32" stroke-width="0.95"/>
<line x1="421.50" y1="211.50" x2="421.50" y2="226.60" stroke="#1e1e1e" stroke-width="1.1"/>
<line x1="414.90" y1="218.50" x2="428.10" y2="218.50" stroke="#1e1e1e" stroke-width="1.1"/>
<line x1="418.20" y1="211.50" x2="424.80" y2="211.50" stroke="#1e1e1e" stroke-width="1.1"/>
<text x="421.50" y="203.90" font-size="6.0" text-anchor="middle" font-weight="bold" fill="#2f9a32" stroke="#2f9a32" stroke-width="0.07">71</text>
<path d="M440.50 205.34L442.45 208.77L438.55 208.77Z" fill="none" stroke="#2424f0" stroke-width="0.95"/>
<path d="M434.50 224.64L436.45 228.07L432.55 228.07Z" fill="none" stroke="#2424f0" stroke-width="0.95"/>
<path d="M436.50 224.64L438.45 228.07L434.55 228.07Z" fill="none" stroke="#2424f0" stroke-width="0.95"/>
<path d="M438.50 224.64L440.45 228.07L436.55 228.07Z" fill="none" stroke="#2424f0" stroke-width="0.95"/>
<path d="M440.50 224.64L442.45 228.07L438.55 228.07Z" fill="none" stroke="#2424f0" stroke-width="0.95"/>
<path d="M442.50 224.64L444.45 228.07L440.55 228.07Z" fill="none" stroke="#2424f0" stroke-width="0.95"/>
<path d="M444.50 224.64L446.45 228.07L442.55 228.07Z" fill="none" stroke="#2424f0" stroke-width="0.95"/>
<path d="M446.50 224.64L448.45 228.07L444.55 228.07Z" fill="none" stroke="#2424f0" stroke-width="0.95"/>
<line x1="440.50" y1="217.50" x2="440.50" y2="226.60" stroke="#1e1e1e" stroke-width="1.1"/>
<line x1="433.90" y1="224.50" x2="447.10" y2="224.50" stroke="#1e1e1e" stroke-width="1.1"/>
<line x1="437.20" y1="217.50" x2="443.80" y2="217.50" stroke="#1e1e1e" stroke-width="1.1"/>
<text x="440.50" y="203.00" font-size="6.0" text-anchor="middle" font-weight="bold" fill="#2424f0" stroke="#2424f0" stroke-width="0.07">24</text>
<circle cx="460.50" cy="196.80" r="1.7" fill="none" stroke="#f5222a" stroke-width="0.95"/>
<circle cx="460.50" cy="209.90" r="1.7" fill="none" stroke="#f5222a" stroke-width="0.95"/>
<circle cx="460.50" cy="215.70" r="1.7" fill="none" stroke="#f5222a" stroke-width="0.95"/>
<circle cx="455.50" cy="223.00" r="1.7" fill="none" stroke="#f5222a" stroke-width="0.95"/>
<circle cx="465.50" cy="223.00" r="1.7" fill="none" stroke="#f5222a" stroke-width="0.95"/>
<circle cx="455.00" cy="226.60" r="1.7" fill="none" stroke="#f5222a" stroke-width="0.95"/>
<circle cx="460.50" cy="226.60" r="1.7" fill="none" stroke="#f5222a" stroke-width="0.95"/>
<circle cx="466.00" cy="226.60" r="1.7" fill="none" stroke="#f5222a" stroke-width="0.95"/>
<line x1="460.50" y1="207.50" x2="460.50" y2="226.60" stroke="#1e1e1e" stroke-width="1.1"/>
<line x1="453.90" y1="218.50" x2="467.10" y2="218.50" stroke="#1e1e1e" stroke-width="1.1"/>
<line x1="457.20" y1="207.50" x2="463.80" y2="207.50" stroke="#1e1e1e" stroke-width="1.1"/>
<text x="460.50" y="191.00" font-size="6.0" text-anchor="middle" font-weight="bold" fill="#f5222a" stroke="#f5222a" stroke-width="0.07">77</text>
<rect x="478.80" y="194.30" width="3.40" height="3.40" fill="none" stroke="#2f9a32" stroke-width="0.95"/>
<rect x="478.80" y="210.60" width="3.40" height="3.40" fill="none" stroke="#2f9a32" stroke-width="0.95"/>
<rect x="473.80" y="215.30" width="3.40" height="3.40" fill="none" stroke="#2f9a32" stroke-width="0.95"/>
<rect x="483.80" y="217.90" width="3.40" height="3.40" fill="none" stroke="#2f9a32" stroke-width="0.95"/>
<rect x="478.80" y="217.30" width="3.40" height="3.40" fill="#2f9a32" stroke="#2f9a32" stroke-width="0.95"/>
<rect x="473.80" y="224.90" width="3.40" height="3.40" fill="none" stroke="#2f9a32" stroke-width="0.95"/>
<rect x="478.80" y="224.90" width="3.40" height="3.40" fill="none" stroke="#2f9a32" stroke-width="0.95"/>
<rect x="483.80" y="224.90" width="3.40" height="3.40" fill="none" stroke="#2f9a32" stroke-width="0.95"/>
<line x1="480.50" y1="207.50" x2="480.50" y2="226.60" stroke="#1e1e1e" stroke-width="1.1"/>
<line x1="473.90" y1="218.50" x2="487.10" y2="218.50" stroke="#1e1e1e" stroke-width="1.1"/>
<line x1="477.20" y1="207.50" x2="483.80" y2="207.50" stroke="#1e1e1e" stroke-width="1.1"/>
<text x="480.50" y="190.40" font-size="6.0" text-anchor="middle" font-weight="bold" fill="#2f9a32" stroke="#2f9a32" stroke-width="0.07">81</text>
<path d="M493.50 224.64L495.45 228.07L491.55 228.07Z" fill="none" stroke="#2424f0" stroke-width="0.95"/>
<path d="M495.21 224.64L497.17 228.07L493.26 228.07Z" fill="none" stroke="#2424f0" stroke-width="0.95"/>
<path d="M496.93 224.64L498.88 228.07L494.97 228.07Z" fill="none" stroke="#2424f0" stroke-width="0.95"/>
<path d="M498.64 224.64L500.60 228.07L496.69 228.07Z" fill="none" stroke="#2424f0" stroke-width="0.95"/>
<path d="M500.36 224.64L502.31 228.07L498.40 228.07Z" fill="none" stroke="#2424f0" stroke-width="0.95"/>
<path d="M502.07 224.64L504.03 228.07L500.12 228.07Z" fill="none" stroke="#2424f0" stroke-width="0.95"/>
<path d="M503.79 224.64L505.74 228.07L501.83 228.07Z" fill="none" stroke="#2424f0" stroke-width="0.95"/>
<path d="M505.50 224.64L507.45 228.07L503.55 228.07Z" fill="none" stroke="#2424f0" stroke-width="0.95"/>
<text x="499.50" y="220.60" font-size="6.0" text-anchor="middle" font-weight="bold" fill="#2424f0" stroke="#2424f0" stroke-width="0.07">5</text>
<circle cx="519.50" cy="181.00" r="1.7" fill="none" stroke="#f5222a" stroke-width="0.95"/>
<circle cx="519.50" cy="196.00" r="1.7" fill="none" stroke="#f5222a" stroke-width="0.95"/>
<circle cx="519.50" cy="200.00" r="1.7" fill="none" stroke="#f5222a" stroke-width="0.95"/>
<circle cx="519.50" cy="210.00" r="1.7" fill="none" stroke="#f5222a" stroke-width="0.95"/>
<circle cx="519.50" cy="221.00" r="1.7" fill="none" stroke="#f5222a" stroke-width="0.95"/>
<circle cx="513.50" cy="226.60" r="1.7" fill="none" stroke="#f5222a" stroke-width="0.95"/>
<circle cx="517.50" cy="226.60" r="1.7" fill="none" stroke="#f5222a" stroke-width="0.95"/>
<circle cx="521.50" cy="226.60" r="1.7" fill="none" stroke="#f5222a" stroke-width="0.95"/>
<circle cx="525.50" cy="226.60" r="1.7" fill="none" stroke="#f5222a" stroke-width="0.95"/>
<line x1="519.50" y1="195.50" x2="519.50" y2="226.60" stroke="#1e1e1e" stroke-width="1.1"/>
<line x1="512.90" y1="213.50" x2="526.10" y2="213.50" stroke="#1e1e1e" stroke-width="1.1"/>
<line x1="516.20" y1="195.50" x2="522.80" y2="195.50" stroke="#1e1e1e" stroke-width="1.1"/>
<text x="519.50" y="177.30" font-size="6.0" text-anchor="middle" font-weight="bold" fill="#f5222a" stroke="#f5222a" stroke-width="0.07">128</text>
<rect x="536.80" y="179.30" width="3.40" height="3.40" fill="none" stroke="#2f9a32" stroke-width="0.95"/>
<rect x="533.80" y="185.10" width="3.40" height="3.40" fill="none" stroke="#2f9a32" stroke-width="0.95"/>
<rect x="539.80" y="185.70" width="3.40" height="3.40" fill="none" stroke="#2f9a32" stroke-width="0.95"/>
<rect x="536.80" y="209.30" width="3.40" height="3.40" fill="#2f9a32" stroke="#2f9a32" stroke-width="0.95"/>
<rect x="536.80" y="212.70" width="3.40" height="3.40" fill="none" stroke="#2f9a32" stroke-width="0.95"/>
<rect x="531.80" y="224.90" width="3.40" height="3.40" fill="none" stroke="#2f9a32" stroke-width="0.95"/>
<rect x="536.80" y="224.90" width="3.40" height="3.40" fill="none" stroke="#2f9a32" stroke-width="0.95"/>
<rect x="541.80" y="224.90" width="3.40" height="3.40" fill="none" stroke="#2f9a32" stroke-width="0.95"/>
<line x1="538.50" y1="188.50" x2="538.50" y2="226.60" stroke="#1e1e1e" stroke-width="1.1"/>
<line x1="531.90" y1="207.50" x2="545.10" y2="207.50" stroke="#1e1e1e" stroke-width="1.1"/>
<line x1="535.20" y1="188.50" x2="541.80" y2="188.50" stroke="#1e1e1e" stroke-width="1.1"/>
<text x="538.50" y="176.00" font-size="6.0" text-anchor="middle" font-weight="bold" fill="#2f9a32" stroke="#2f9a32" stroke-width="0.07">205</text>
<path d="M558.50 214.24L560.46 217.67L556.54 217.67Z" fill="none" stroke="#2424f0" stroke-width="0.95"/>
<path d="M558.50 220.54L560.46 223.97L556.54 223.97Z" fill="#2424f0" stroke="#2424f0" stroke-width="0.95"/>
<path d="M552.50 224.64L554.46 228.07L550.54 228.07Z" fill="none" stroke="#2424f0" stroke-width="0.95"/>
<path d="M554.90 224.64L556.86 228.07L552.94 228.07Z" fill="none" stroke="#2424f0" stroke-width="0.95"/>
<path d="M557.30 224.64L559.25 228.07L555.34 228.07Z" fill="none" stroke="#2424f0" stroke-width="0.95"/>
<path d="M559.70 224.64L561.66 228.07L557.75 228.07Z" fill="none" stroke="#2424f0" stroke-width="0.95"/>
<path d="M562.10 224.64L564.06 228.07L560.14 228.07Z" fill="none" stroke="#2424f0" stroke-width="0.95"/>
<path d="M564.50 224.64L566.46 228.07L562.54 228.07Z" fill="none" stroke="#2424f0" stroke-width="0.95"/>
<line x1="558.50" y1="220.50" x2="558.50" y2="226.60" stroke="#1e1e1e" stroke-width="1.1"/>
<line x1="551.90" y1="224.50" x2="565.10" y2="224.50" stroke="#1e1e1e" stroke-width="1.1"/>
<line x1="555.20" y1="220.50" x2="561.80" y2="220.50" stroke="#1e1e1e" stroke-width="1.1"/>
<text x="558.50" y="211.40" font-size="6.0" text-anchor="middle" font-weight="bold" fill="#2424f0" stroke="#2424f0" stroke-width="0.07">35</text>
<line x1="342.80" y1="195.50" x2="382.00" y2="195.50" stroke="#333" stroke-width="1.25"/>
<text x="362.40" y="194.40" font-size="9.8" text-anchor="middle" fill="#2a2a2a" stroke="#2a2a2a" stroke-width="0.07">ns</text>
<line x1="401.60" y1="188.50" x2="440.80" y2="188.50" stroke="#333" stroke-width="1.25"/>
<text x="421.20" y="187.40" font-size="9.8" text-anchor="middle" fill="#2a2a2a" stroke="#2a2a2a" stroke-width="0.07">ns</text>
<line x1="460.40" y1="177.50" x2="499.60" y2="177.50" stroke="#333" stroke-width="1.25"/>
<text x="480.00" y="176.40" font-size="9.8" text-anchor="middle" fill="#2a2a2a" stroke="#2a2a2a" stroke-width="0.07">ns</text>
<line x1="519.20" y1="166.50" x2="558.40" y2="166.50" stroke="#333" stroke-width="1.25"/>
<text x="538.80" y="165.40" font-size="9.8" text-anchor="middle" fill="#2a2a2a" stroke="#2a2a2a" stroke-width="0.07">ns</text>
<text x="362.40" y="242.50" font-size="6.6" text-anchor="middle" fill="#1a1a1a" stroke="#1a1a1a" stroke-width="0.07">UKNP3.1.2</text>
<text x="362.40" y="250.00" font-size="6.6" text-anchor="middle" fill="#1a1a1a" stroke="#1a1a1a" stroke-width="0.07">(Tier 4)</text>
<text x="421.20" y="242.50" font-size="6.6" text-anchor="middle" fill="#1a1a1a" stroke="#1a1a1a" stroke-width="0.07">UKNP4.2.2</text>
<text x="421.20" y="250.00" font-size="6.6" text-anchor="middle" fill="#1a1a1a" stroke="#1a1a1a" stroke-width="0.07">(Tier 3)</text>
<text x="480.00" y="242.50" font-size="6.6" text-anchor="middle" fill="#1a1a1a" stroke="#1a1a1a" stroke-width="0.07">ED43</text>
<text x="480.00" y="250.00" font-size="6.6" text-anchor="middle" fill="#1a1a1a" stroke="#1a1a1a" stroke-width="0.07">(tier undefined)</text>
<text x="538.80" y="242.50" font-size="6.6" text-anchor="middle" fill="#1a1a1a" stroke="#1a1a1a" stroke-width="0.07">UKNP5.2.1</text>
<text x="538.80" y="250.00" font-size="6.6" text-anchor="middle" fill="#1a1a1a" stroke="#1a1a1a" stroke-width="0.07">Tier 1)</text>
<rect x="509.5" y="112.7" width="173.0" height="33.5" fill="none" stroke="#666" stroke-width="0.7"/>
<circle cx="516.70" cy="119.50" r="1.05" fill="#f5222a" fill-opacity="0.55" stroke="#f5222a" stroke-width="0.5"/>
<text x="522.50" y="121.70" font-size="6.65" fill="#1a1a1a" stroke="#1a1a1a" stroke-width="0.07" textLength="98.3" lengthAdjust="spacingAndGlyphs"><tspan>HCV-1 sE1E2.Cut</tspan><tspan font-size="4.79" dy="1.4">1+2</tspan><tspan dy="-1.4">.SPYΔN-His</tspan><tspan font-size="4.79" dy="1.4">8</tspan></text>
<rect x="515.65" y="128.85" width="2.1" height="2.1" fill="#2f9a32" fill-opacity="0.4" stroke="#2f9a32" stroke-width="0.5"/>
<text x="522.50" y="131.90" font-size="6.65" fill="#1a1a1a" stroke="#1a1a1a" stroke-width="0.07" textLength="134.8" lengthAdjust="spacingAndGlyphs"><tspan>HCV-1 sE1E2.Cut</tspan><tspan font-size="4.79" dy="1.4">1+2</tspan><tspan dy="-1.4">.SPYΔN-His</tspan><tspan font-size="4.79" dy="1.4">8</tspan><tspan dy="-1.4"> (Kif-treated)</tspan></text>
<path d="M516.70 139.30L518.00 141.60L515.40 141.60Z" fill="#2424f0" fill-opacity="0.7"/>
<text x="522.50" y="142.80" font-size="6.65" fill="#1a1a1a" stroke="#1a1a1a" stroke-width="0.07" textLength="134.8" lengthAdjust="spacingAndGlyphs"><tspan>HCV-1 sE1E2.Cut</tspan><tspan font-size="4.79" dy="1.4">1+2</tspan><tspan dy="-1.4">.SPYΔN-His</tspan><tspan font-size="4.79" dy="1.4">8</tspan><tspan dy="-1.4"> (Kif/endo F)</tspan></text>
<text x="1.00" y="275.00" font-size="15" font-weight="bold" fill="#000" stroke="#000" stroke-width="0.07">d</text>
<text x="24.20" y="273.50" font-size="9.1" fill="#1a1a1a" stroke="#1a1a1a" stroke-width="0.07" textLength="403" lengthAdjust="spacingAndGlyphs">HCV-1 sE1E2.Cut<tspan font-size="6.19" dy="1.8">1+2</tspan><tspan dy="-1.8">.SPYΔN (ExpiCHO) dimer-induced NAb responses from an independent study</tspan></text>
<text x="32.60" y="290.30" font-size="8.0" fill="#1a1a1a" stroke="#1a1a1a" stroke-width="0.07">H77 (Genotype 1, Tier 2)</text>
<line x1="40.30" y1="313.20" x2="40.30" y2="381.10" stroke="#3a3a3a" stroke-width="1.0"/>
<line x1="35.30" y1="313.20" x2="40.30" y2="313.20" stroke="#3a3a3a" stroke-width="1.0"/>
<text x="34.30" y="316.73" font-size="9.8" text-anchor="end" fill="#1a1a1a" stroke="#1a1a1a" stroke-width="0.07">10<tspan font-size="5.88" dx="0.3" dy="-3.63">5</tspan></text>
<line x1="35.30" y1="333.20" x2="40.30" y2="333.20" stroke="#3a3a3a" stroke-width="1.0"/>
<text x="34.30" y="336.73" font-size="9.8" text-anchor="end" fill="#1a1a1a" stroke="#1a1a1a" stroke-width="0.07">10<tspan font-size="5.88" dx="0.3" dy="-3.63">4</tspan></text>
<line x1="35.30" y1="353.40" x2="40.30" y2="353.40" stroke="#3a3a3a" stroke-width="1.0"/>
<text x="34.30" y="356.93" font-size="9.8" text-anchor="end" fill="#1a1a1a" stroke="#1a1a1a" stroke-width="0.07">10<tspan font-size="5.88" dx="0.3" dy="-3.63">3</tspan></text>
<line x1="35.30" y1="373.40" x2="40.30" y2="373.40" stroke="#3a3a3a" stroke-width="1.0"/>
<text x="34.30" y="376.93" font-size="9.8" text-anchor="end" fill="#1a1a1a" stroke="#1a1a1a" stroke-width="0.07">10<tspan font-size="5.88" dx="0.3" dy="-3.63">2</tspan></text>
<line x1="40.30" y1="381.10" x2="284.70" y2="381.10" stroke="#555" stroke-width="1.2"/>
<line x1="103.80" y1="313.00" x2="103.80" y2="381.10" stroke="#8a8a8a" stroke-width="0.75" stroke-dasharray="1 1.1"/>
<line x1="163.00" y1="313.00" x2="163.00" y2="381.10" stroke="#8a8a8a" stroke-width="0.75" stroke-dasharray="1 1.1"/>
<line x1="221.80" y1="313.00" x2="221.80" y2="381.10" stroke="#8a8a8a" stroke-width="0.75" stroke-dasharray="1 1.1"/>
<text x="0.00" y="0.00" font-size="10.2" text-anchor="middle" fill="#1a1a1a" stroke="#1a1a1a" stroke-width="0.07" transform="translate(16.00 343.40) rotate(-90)">ID<tspan font-size="6.32" dy="2">50</tspan><tspan dy="-2"> titer</tspan></text>
<circle cx="49.50" cy="381.10" r="1.7" fill="none" stroke="#f5222a" stroke-width="0.95"/>
<circle cx="52.36" cy="381.10" r="1.7" fill="none" stroke="#f5222a" stroke-width="0.95"/>
<circle cx="55.21" cy="381.10" r="1.7" fill="none" stroke="#f5222a" stroke-width="0.95"/>
<circle cx="58.07" cy="381.10" r="1.7" fill="none" stroke="#f5222a" stroke-width="0.95"/>
<circle cx="60.93" cy="381.10" r="1.7" fill="none" stroke="#f5222a" stroke-width="0.95"/>
<circle cx="63.79" cy="381.10" r="1.7" fill="none" stroke="#f5222a" stroke-width="0.95"/>
<circle cx="66.64" cy="381.10" r="1.7" fill="none" stroke="#f5222a" stroke-width="0.95"/>
<circle cx="69.50" cy="381.10" r="1.7" fill="none" stroke="#f5222a" stroke-width="0.95"/>
<path d="M79.50 379.15L81.45 382.57L77.55 382.57Z" fill="none" stroke="#2424f0" stroke-width="0.95"/>
<path d="M82.36 379.15L84.31 382.57L80.40 382.57Z" fill="none" stroke="#2424f0" stroke-width="0.95"/>
<path d="M85.21 379.15L87.17 382.57L83.26 382.57Z" fill="none" stroke="#2424f0" stroke-width="0.95"/>
<path d="M88.07 379.15L90.03 382.57L86.12 382.57Z" fill="none" stroke="#2424f0" stroke-width="0.95"/>
<path d="M90.93 379.15L92.88 382.57L88.97 382.57Z" fill="none" stroke="#2424f0" stroke-width="0.95"/>
<path d="M93.79 379.15L95.74 382.57L91.83 382.57Z" fill="none" stroke="#2424f0" stroke-width="0.95"/>
<path d="M96.64 379.15L98.60 382.57L94.69 382.57Z" fill="none" stroke="#2424f0" stroke-width="0.95"/>
<path d="M99.50 379.15L101.45 382.57L97.55 382.57Z" fill="none" stroke="#2424f0" stroke-width="0.95"/>
<path d="M82.50 376.55L84.45 379.97L80.55 379.97Z" fill="none" stroke="#2424f0" stroke-width="0.95"/>
<circle cx="108.50" cy="381.10" r="1.7" fill="none" stroke="#f5222a" stroke-width="0.95"/>
<circle cx="111.36" cy="381.10" r="1.7" fill="none" stroke="#f5222a" stroke-width="0.95"/>
<circle cx="114.21" cy="381.10" r="1.7" fill="none" stroke="#f5222a" stroke-width="0.95"/>
<circle cx="117.07" cy="381.10" r="1.7" fill="none" stroke="#f5222a" stroke-width="0.95"/>
<circle cx="119.93" cy="381.10" r="1.7" fill="none" stroke="#f5222a" stroke-width="0.95"/>
<circle cx="122.79" cy="381.10" r="1.7" fill="none" stroke="#f5222a" stroke-width="0.95"/>
<circle cx="125.64" cy="381.10" r="1.7" fill="none" stroke="#f5222a" stroke-width="0.95"/>
<circle cx="128.50" cy="381.10" r="1.7" fill="none" stroke="#f5222a" stroke-width="0.95"/>
<text x="118.50" y="376.10" font-size="6.0" text-anchor="middle" font-weight="bold" fill="#f5222a" stroke="#f5222a" stroke-width="0.07">3</text>
<path d="M137.50 379.15L139.46 382.57L135.54 382.57Z" fill="none" stroke="#2424f0" stroke-width="0.95"/>
<path d="M141.50 379.15L143.46 382.57L139.54 382.57Z" fill="none" stroke="#2424f0" stroke-width="0.95"/>
<path d="M145.50 379.15L147.46 382.57L143.54 382.57Z" fill="none" stroke="#2424f0" stroke-width="0.95"/>
<path d="M149.50 379.15L151.46 382.57L147.54 382.57Z" fill="none" stroke="#2424f0" stroke-width="0.95"/>
<path d="M153.50 379.15L155.46 382.57L151.54 382.57Z" fill="none" stroke="#2424f0" stroke-width="0.95"/>
<path d="M157.50 379.15L159.46 382.57L155.54 382.57Z" fill="none" stroke="#2424f0" stroke-width="0.95"/>
<path d="M145.50 374.05L147.46 377.47L143.54 377.47Z" fill="none" stroke="#2424f0" stroke-width="0.95"/>
<path d="M149.50 374.05L151.46 377.47L147.54 377.47Z" fill="none" stroke="#2424f0" stroke-width="0.95"/>
<path d="M147.50 376.55L149.46 379.97L145.54 379.97Z" fill="#2424f0" stroke="#2424f0" stroke-width="0.95"/>
<line x1="147.50" y1="376.50" x2="147.50" y2="381.10" stroke="#1e1e1e" stroke-width="1.1"/>
<line x1="137.90" y1="379.50" x2="157.10" y2="379.50" stroke="#1e1e1e" stroke-width="1.1"/>
<line x1="142.50" y1="376.50" x2="152.50" y2="376.50" stroke="#1e1e1e" stroke-width="1.1"/>
<text x="147.50" y="370.40" font-size="6.0" text-anchor="middle" font-weight="bold" fill="#2424f0" stroke="#2424f0" stroke-width="0.07">28</text>
<circle cx="177.50" cy="345.10" r="1.7" fill="none" stroke="#f5222a" stroke-width="0.95"/>
<circle cx="172.20" cy="357.70" r="1.7" fill="none" stroke="#f5222a" stroke-width="0.95"/>
<circle cx="177.50" cy="357.70" r="1.7" fill="#f5222a" stroke="#f5222a" stroke-width="0.95"/>
<circle cx="182.80" cy="357.70" r="1.7" fill="none" stroke="#f5222a" stroke-width="0.95"/>
<circle cx="177.50" cy="355.90" r="1.7" fill="#f5222a" stroke="#f5222a" stroke-width="0.95"/>
<circle cx="177.50" cy="360.30" r="1.7" fill="#f5222a" stroke="#f5222a" stroke-width="0.95"/>
<circle cx="175.00" cy="366.10" r="1.7" fill="none" stroke="#f5222a" stroke-width="0.95"/>
<circle cx="180.00" cy="366.10" r="1.7" fill="none" stroke="#f5222a" stroke-width="0.95"/>
<line x1="177.50" y1="351.50" x2="177.50" y2="364.50" stroke="#1e1e1e" stroke-width="1.1"/>
<line x1="167.90" y1="357.50" x2="187.10" y2="357.50" stroke="#1e1e1e" stroke-width="1.1"/>
<line x1="172.50" y1="351.50" x2="182.50" y2="351.50" stroke="#1e1e1e" stroke-width="1.1"/>
<line x1="172.50" y1="364.50" x2="182.50" y2="364.50" stroke="#1e1e1e" stroke-width="1.1"/>
<text x="177.50" y="339.20" font-size="6.0" text-anchor="middle" font-weight="bold" fill="#f5222a" stroke="#f5222a" stroke-width="0.07">603</text>
<path d="M206.50 344.85L208.46 348.27L204.54 348.27Z" fill="none" stroke="#2424f0" stroke-width="0.95"/>
<path d="M204.50 365.75L206.46 369.17L202.54 369.17Z" fill="none" stroke="#2424f0" stroke-width="0.95"/>
<path d="M209.50 365.75L211.46 369.17L207.54 369.17Z" fill="none" stroke="#2424f0" stroke-width="0.95"/>
<path d="M206.50 375.05L208.46 378.47L204.54 378.47Z" fill="#2424f0" stroke="#2424f0" stroke-width="0.95"/>
<path d="M198.50 379.15L200.46 382.57L196.54 382.57Z" fill="none" stroke="#2424f0" stroke-width="0.95"/>
<path d="M203.50 379.15L205.46 382.57L201.54 382.57Z" fill="none" stroke="#2424f0" stroke-width="0.95"/>
<path d="M208.50 379.15L210.46 382.57L206.54 382.57Z" fill="none" stroke="#2424f0" stroke-width="0.95"/>
<path d="M214.50 379.15L216.46 382.57L212.54 382.57Z" fill="none" stroke="#2424f0" stroke-width="0.95"/>
<line x1="206.50" y1="361.50" x2="206.50" y2="381.10" stroke="#1e1e1e" stroke-width="1.1"/>
<line x1="196.90" y1="372.50" x2="216.10" y2="372.50" stroke="#1e1e1e" stroke-width="1.1"/>
<line x1="201.50" y1="361.50" x2="211.50" y2="361.50" stroke="#1e1e1e" stroke-width="1.1"/>
<text x="206.50" y="341.90" font-size="6.0" text-anchor="middle" font-weight="bold" fill="#2424f0" stroke="#2424f0" stroke-width="0.07">84</text>
<circle cx="231.50" cy="347.70" r="1.7" fill="none" stroke="#f5222a" stroke-width="0.95"/>
<circle cx="236.50" cy="348.90" r="1.7" fill="none" stroke="#f5222a" stroke-width="0.95"/>
<circle cx="230.50" cy="357.10" r="1.7" fill="none" stroke="#f5222a" stroke-width="0.95"/>
<circle cx="236.50" cy="357.10" r="1.7" fill="#f5222a" stroke="#f5222a" stroke-width="0.95"/>
<circle cx="241.50" cy="357.10" r="1.7" fill="none" stroke="#f5222a" stroke-width="0.95"/>
<circle cx="231.50" cy="362.00" r="1.7" fill="none" stroke="#f5222a" stroke-width="0.95"/>
<circle cx="236.50" cy="362.00" r="1.7" fill="none" stroke="#f5222a" stroke-width="0.95"/>
<circle cx="241.50" cy="362.00" r="1.7" fill="none" stroke="#f5222a" stroke-width="0.95"/>
<line x1="236.50" y1="351.50" x2="236.50" y2="362.50" stroke="#1e1e1e" stroke-width="1.1"/>
<line x1="226.90" y1="357.50" x2="246.10" y2="357.50" stroke="#1e1e1e" stroke-width="1.1"/>
<line x1="231.50" y1="351.50" x2="241.50" y2="351.50" stroke="#1e1e1e" stroke-width="1.1"/>
<line x1="231.50" y1="362.50" x2="241.50" y2="362.50" stroke="#1e1e1e" stroke-width="1.1"/>
<text x="236.50" y="340.80" font-size="6.0" text-anchor="middle" font-weight="bold" fill="#f5222a" stroke="#f5222a" stroke-width="0.07">652</text>
<path d="M265.50 349.94L267.45 353.37L263.55 353.37Z" fill="none" stroke="#2424f0" stroke-width="0.95"/>
<path d="M265.50 358.05L267.45 361.47L263.55 361.47Z" fill="#2424f0" stroke="#2424f0" stroke-width="0.95"/>
<path d="M263.50 369.75L265.45 373.17L261.55 373.17Z" fill="none" stroke="#2424f0" stroke-width="0.95"/>
<path d="M268.50 369.75L270.45 373.17L266.55 373.17Z" fill="none" stroke="#2424f0" stroke-width="0.95"/>
<path d="M265.50 365.05L267.45 368.47L263.55 368.47Z" fill="#2424f0" stroke="#2424f0" stroke-width="0.95"/>
<path d="M263.50 379.15L265.45 382.57L261.55 382.57Z" fill="none" stroke="#2424f0" stroke-width="0.95"/>
<path d="M268.50 379.15L270.45 382.57L266.55 382.57Z" fill="none" stroke="#2424f0" stroke-width="0.95"/>
<line x1="265.50" y1="356.50" x2="265.50" y2="378.50" stroke="#1e1e1e" stroke-width="1.1"/>
<line x1="255.90" y1="367.50" x2="275.10" y2="367.50" stroke="#1e1e1e" stroke-width="1.1"/>
<line x1="260.50" y1="356.50" x2="270.50" y2="356.50" stroke="#1e1e1e" stroke-width="1.1"/>
<line x1="260.50" y1="378.50" x2="270.50" y2="378.50" stroke="#1e1e1e" stroke-width="1.1"/>
<text x="265.50" y="348.00" font-size="6.0" text-anchor="middle" font-weight="bold" fill="#2424f0" stroke="#2424f0" stroke-width="0.07">173</text>
<line x1="177.40" y1="327.50" x2="206.85" y2="327.50" stroke="#333" stroke-width="1.25"/>
<text x="192.12" y="326.40" font-size="9.8" text-anchor="middle" fill="#2a2a2a" stroke="#2a2a2a" stroke-width="0.07">ns</text>
<line x1="236.30" y1="329.50" x2="265.75" y2="329.50" stroke="#333" stroke-width="1.25"/>
<text x="251.02" y="328.40" font-size="9.8" text-anchor="middle" fill="#2a2a2a" stroke="#2a2a2a" stroke-width="0.07">ns</text>
<text x="74.33" y="394.40" font-size="6.6" text-anchor="middle" fill="#1a1a1a" stroke="#1a1a1a" stroke-width="0.07">W2</text>
<line x1="53.52" y1="390.30" x2="57.93" y2="390.30" stroke="#3a3a3a" stroke-width="1.0"/>
<line x1="90.43" y1="390.30" x2="95.43" y2="390.30" stroke="#3a3a3a" stroke-width="1.0"/>
<text x="133.22" y="394.40" font-size="6.6" text-anchor="middle" fill="#1a1a1a" stroke="#1a1a1a" stroke-width="0.07">W5</text>
<line x1="112.42" y1="390.30" x2="116.83" y2="390.30" stroke="#3a3a3a" stroke-width="1.0"/>
<line x1="149.32" y1="390.30" x2="154.32" y2="390.30" stroke="#3a3a3a" stroke-width="1.0"/>
<text x="192.12" y="394.40" font-size="6.6" text-anchor="middle" fill="#1a1a1a" stroke="#1a1a1a" stroke-width="0.07">W8</text>
<line x1="171.33" y1="390.30" x2="175.72" y2="390.30" stroke="#3a3a3a" stroke-width="1.0"/>
<line x1="208.22" y1="390.30" x2="213.22" y2="390.30" stroke="#3a3a3a" stroke-width="1.0"/>
<text x="251.02" y="394.40" font-size="6.6" text-anchor="middle" fill="#1a1a1a" stroke="#1a1a1a" stroke-width="0.07">W11</text>
<line x1="230.22" y1="390.30" x2="234.62" y2="390.30" stroke="#3a3a3a" stroke-width="1.0"/>
<line x1="267.12" y1="390.30" x2="272.12" y2="390.30" stroke="#3a3a3a" stroke-width="1.0"/>
<text x="294.60" y="293.30" font-size="15" font-weight="bold" fill="#000" stroke="#000" stroke-width="0.07">e</text>
<text x="317.50" y="291.60" font-size="8.0" fill="#1a1a1a" stroke="#1a1a1a" stroke-width="0.07">Other genotypes (w11)</text>
<line x1="329.70" y1="313.50" x2="329.70" y2="381.00" stroke="#3a3a3a" stroke-width="1.0"/>
<line x1="324.70" y1="313.50" x2="329.70" y2="313.50" stroke="#3a3a3a" stroke-width="1.0"/>
<text x="323.70" y="317.03" font-size="9.8" text-anchor="end" fill="#1a1a1a" stroke="#1a1a1a" stroke-width="0.07">10<tspan font-size="5.88" dx="0.3" dy="-3.63">5</tspan></text>
<line x1="324.70" y1="333.40" x2="329.70" y2="333.40" stroke="#3a3a3a" stroke-width="1.0"/>
<text x="323.70" y="336.93" font-size="9.8" text-anchor="end" fill="#1a1a1a" stroke="#1a1a1a" stroke-width="0.07">10<tspan font-size="5.88" dx="0.3" dy="-3.63">4</tspan></text>
<line x1="324.70" y1="353.30" x2="329.70" y2="353.30" stroke="#3a3a3a" stroke-width="1.0"/>
<text x="323.70" y="356.83" font-size="9.8" text-anchor="end" fill="#1a1a1a" stroke="#1a1a1a" stroke-width="0.07">10<tspan font-size="5.88" dx="0.3" dy="-3.63">3</tspan></text>
<line x1="324.70" y1="373.10" x2="329.70" y2="373.10" stroke="#3a3a3a" stroke-width="1.0"/>
<text x="323.70" y="376.63" font-size="9.8" text-anchor="end" fill="#1a1a1a" stroke="#1a1a1a" stroke-width="0.07">10<tspan font-size="5.88" dx="0.3" dy="-3.63">2</tspan></text>
<line x1="329.70" y1="381.00" x2="574.30" y2="381.00" stroke="#8a8a8a" stroke-width="1.3"/>
<line x1="392.80" y1="313.00" x2="392.80" y2="381.00" stroke="#8a8a8a" stroke-width="0.75" stroke-dasharray="1 1.1"/>
<line x1="452.10" y1="313.00" x2="452.10" y2="381.00" stroke="#8a8a8a" stroke-width="0.75" stroke-dasharray="1 1.1"/>
<line x1="510.80" y1="313.00" x2="510.80" y2="381.00" stroke="#8a8a8a" stroke-width="0.75" stroke-dasharray="1 1.1"/>
<text x="0.00" y="0.00" font-size="10.5" text-anchor="middle" fill="#1a1a1a" stroke="#1a1a1a" stroke-width="0.07" transform="translate(305.40 343.40) rotate(-90)">ID<tspan font-size="6.51" dy="2">50</tspan><tspan dy="-2"> titer</tspan></text>
<circle cx="346.50" cy="368.40" r="1.7" fill="none" stroke="#f5222a" stroke-width="0.95"/>
<circle cx="352.50" cy="368.40" r="1.7" fill="none" stroke="#f5222a" stroke-width="0.95"/>
<circle cx="349.50" cy="371.20" r="1.7" fill="none" stroke="#f5222a" stroke-width="0.95"/>
<circle cx="349.50" cy="374.30" r="1.7" fill="#f5222a" stroke="#f5222a" stroke-width="0.95"/>
<circle cx="344.50" cy="377.10" r="1.7" fill="none" stroke="#f5222a" stroke-width="0.95"/>
<circle cx="352.50" cy="377.10" r="1.7" fill="none" stroke="#f5222a" stroke-width="0.95"/>
<circle cx="344.50" cy="380.60" r="1.7" fill="none" stroke="#f5222a" stroke-width="0.95"/>
<line x1="349.50" y1="369.50" x2="349.50" y2="379.50" stroke="#1e1e1e" stroke-width="1.1"/>
<line x1="340.50" y1="374.50" x2="358.50" y2="374.50" stroke="#1e1e1e" stroke-width="1.1"/>
<line x1="345.10" y1="369.50" x2="353.90" y2="369.50" stroke="#1e1e1e" stroke-width="1.1"/>
<line x1="345.10" y1="379.50" x2="353.90" y2="379.50" stroke="#1e1e1e" stroke-width="1.1"/>
<text x="349.50" y="360.90" font-size="6.0" text-anchor="middle" font-weight="bold" fill="#f5222a" stroke="#f5222a" stroke-width="0.07">79</text>
<path d="M378.50 363.44L380.45 366.87L376.55 366.87Z" fill="none" stroke="#2424f0" stroke-width="0.95"/>
<path d="M375.50 366.94L377.45 370.37L373.55 370.37Z" fill="none" stroke="#2424f0" stroke-width="0.95"/>
<path d="M381.50 366.94L383.45 370.37L379.55 370.37Z" fill="none" stroke="#2424f0" stroke-width="0.95"/>
<path d="M378.50 372.35L380.45 375.77L376.55 375.77Z" fill="#2424f0" stroke="#2424f0" stroke-width="0.95"/>
<path d="M372.50 376.35L374.45 379.77L370.55 379.77Z" fill="none" stroke="#2424f0" stroke-width="0.95"/>
<path d="M378.50 376.35L380.45 379.77L376.55 379.77Z" fill="none" stroke="#2424f0" stroke-width="0.95"/>
<path d="M384.50 376.35L386.45 379.77L382.55 379.77Z" fill="none" stroke="#2424f0" stroke-width="0.95"/>
<line x1="378.50" y1="367.50" x2="378.50" y2="377.50" stroke="#1e1e1e" stroke-width="1.1"/>
<line x1="369.50" y1="372.50" x2="387.50" y2="372.50" stroke="#1e1e1e" stroke-width="1.1"/>
<line x1="374.10" y1="367.50" x2="382.90" y2="367.50" stroke="#1e1e1e" stroke-width="1.1"/>
<line x1="374.10" y1="377.50" x2="382.90" y2="377.50" stroke="#1e1e1e" stroke-width="1.1"/>
<text x="378.50" y="359.50" font-size="6.0" text-anchor="middle" font-weight="bold" fill="#2424f0" stroke="#2424f0" stroke-width="0.07">112</text>
<circle cx="409.50" cy="361.20" r="1.7" fill="none" stroke="#f5222a" stroke-width="0.95"/>
<circle cx="404.50" cy="364.20" r="1.7" fill="none" stroke="#f5222a" stroke-width="0.95"/>
<circle cx="407.50" cy="370.10" r="1.7" fill="#f5222a" stroke="#f5222a" stroke-width="0.95"/>
<circle cx="407.50" cy="374.70" r="1.7" fill="none" stroke="#f5222a" stroke-width="0.95"/>
<circle cx="407.50" cy="378.30" r="1.7" fill="none" stroke="#f5222a" stroke-width="0.95"/>
<circle cx="407.50" cy="380.60" r="1.7" fill="none" stroke="#f5222a" stroke-width="0.95"/>
<line x1="407.50" y1="363.50" x2="407.50" y2="380.50" stroke="#1e1e1e" stroke-width="1.1"/>
<line x1="398.50" y1="370.50" x2="416.50" y2="370.50" stroke="#1e1e1e" stroke-width="1.1"/>
<line x1="403.10" y1="363.50" x2="411.90" y2="363.50" stroke="#1e1e1e" stroke-width="1.1"/>
<line x1="403.10" y1="380.50" x2="411.90" y2="380.50" stroke="#1e1e1e" stroke-width="1.1"/>
<text x="407.50" y="353.90" font-size="6.0" text-anchor="middle" font-weight="bold" fill="#f5222a" stroke="#f5222a" stroke-width="0.07">120</text>
<path d="M437.50 359.25L439.45 362.67L435.55 362.67Z" fill="none" stroke="#2424f0" stroke-width="0.95"/>
<path d="M440.50 365.35L442.45 368.77L438.55 368.77Z" fill="none" stroke="#2424f0" stroke-width="0.95"/>
<path d="M429.50 379.05L431.45 382.47L427.55 382.47Z" fill="none" stroke="#2424f0" stroke-width="0.95"/>
<path d="M432.70 379.05L434.65 382.47L430.75 382.47Z" fill="none" stroke="#2424f0" stroke-width="0.95"/>
<path d="M435.90 379.05L437.85 382.47L433.94 382.47Z" fill="none" stroke="#2424f0" stroke-width="0.95"/>
<path d="M439.10 379.05L441.06 382.47L437.15 382.47Z" fill="none" stroke="#2424f0" stroke-width="0.95"/>
<path d="M442.30 379.05L444.25 382.47L440.35 382.47Z" fill="none" stroke="#2424f0" stroke-width="0.95"/>
<path d="M445.50 379.05L447.45 382.47L443.55 382.47Z" fill="none" stroke="#2424f0" stroke-width="0.95"/>
<line x1="437.50" y1="366.50" x2="437.50" y2="381.00" stroke="#1e1e1e" stroke-width="1.1"/>
<line x1="428.50" y1="375.50" x2="446.50" y2="375.50" stroke="#1e1e1e" stroke-width="1.1"/>
<line x1="433.10" y1="366.50" x2="441.90" y2="366.50" stroke="#1e1e1e" stroke-width="1.1"/>
<text x="437.50" y="354.80" font-size="6.0" text-anchor="middle" font-weight="bold" fill="#2424f0" stroke="#2424f0" stroke-width="0.07">54</text>
<circle cx="466.50" cy="363.50" r="1.7" fill="none" stroke="#f5222a" stroke-width="0.95"/>
<circle cx="469.50" cy="366.60" r="1.7" fill="none" stroke="#f5222a" stroke-width="0.95"/>
<circle cx="463.50" cy="369.60" r="1.7" fill="none" stroke="#f5222a" stroke-width="0.95"/>
<circle cx="458.50" cy="377.10" r="1.7" fill="none" stroke="#f5222a" stroke-width="0.95"/>
<circle cx="463.50" cy="379.00" r="1.7" fill="none" stroke="#f5222a" stroke-width="0.95"/>
<circle cx="474.50" cy="379.00" r="1.7" fill="none" stroke="#f5222a" stroke-width="0.95"/>
<circle cx="458.50" cy="381.30" r="1.7" fill="none" stroke="#f5222a" stroke-width="0.95"/>
<circle cx="469.50" cy="381.30" r="1.7" fill="none" stroke="#f5222a" stroke-width="0.95"/>
<line x1="466.50" y1="367.50" x2="466.50" y2="381.00" stroke="#1e1e1e" stroke-width="1.1"/>
<line x1="457.50" y1="374.50" x2="475.50" y2="374.50" stroke="#1e1e1e" stroke-width="1.1"/>
<line x1="462.10" y1="367.50" x2="470.90" y2="367.50" stroke="#1e1e1e" stroke-width="1.1"/>
<text x="466.50" y="357.80" font-size="6.0" text-anchor="middle" font-weight="bold" fill="#f5222a" stroke="#f5222a" stroke-width="0.07">65</text>
<path d="M495.50 353.44L497.45 356.87L493.55 356.87Z" fill="none" stroke="#2424f0" stroke-width="0.95"/>
<path d="M495.50 359.94L497.45 363.37L493.55 363.37Z" fill="none" stroke="#2424f0" stroke-width="0.95"/>
<path d="M487.50 379.05L489.45 382.47L485.55 382.47Z" fill="none" stroke="#2424f0" stroke-width="0.95"/>
<path d="M490.17 379.05L492.12 382.47L488.21 382.47Z" fill="none" stroke="#2424f0" stroke-width="0.95"/>
<path d="M492.83 379.05L494.79 382.47L490.88 382.47Z" fill="none" stroke="#2424f0" stroke-width="0.95"/>
<path d="M495.50 379.05L497.45 382.47L493.55 382.47Z" fill="none" stroke="#2424f0" stroke-width="0.95"/>
<path d="M498.17 379.05L500.12 382.47L496.21 382.47Z" fill="none" stroke="#2424f0" stroke-width="0.95"/>
<path d="M500.83 379.05L502.79 382.47L498.88 382.47Z" fill="none" stroke="#2424f0" stroke-width="0.95"/>
<path d="M503.50 379.05L505.45 382.47L501.55 382.47Z" fill="none" stroke="#2424f0" stroke-width="0.95"/>
<line x1="495.50" y1="364.50" x2="495.50" y2="381.00" stroke="#1e1e1e" stroke-width="1.1"/>
<line x1="486.50" y1="375.50" x2="504.50" y2="375.50" stroke="#1e1e1e" stroke-width="1.1"/>
<line x1="491.10" y1="364.50" x2="499.90" y2="364.50" stroke="#1e1e1e" stroke-width="1.1"/>
<text x="495.50" y="349.60" font-size="6.0" text-anchor="middle" font-weight="bold" fill="#2424f0" stroke="#2424f0" stroke-width="0.07">32</text>
<circle cx="521.50" cy="349.10" r="1.7" fill="none" stroke="#f5222a" stroke-width="0.95"/>
<circle cx="527.50" cy="349.10" r="1.7" fill="none" stroke="#f5222a" stroke-width="0.95"/>
<circle cx="524.50" cy="357.20" r="1.7" fill="none" stroke="#f5222a" stroke-width="0.95"/>
<circle cx="524.50" cy="363.10" r="1.7" fill="none" stroke="#f5222a" stroke-width="0.95"/>
<circle cx="524.50" cy="368.40" r="1.7" fill="none" stroke="#f5222a" stroke-width="0.95"/>
<circle cx="524.50" cy="374.70" r="1.7" fill="none" stroke="#f5222a" stroke-width="0.95"/>
<circle cx="527.50" cy="378.30" r="1.7" fill="none" stroke="#f5222a" stroke-width="0.95"/>
<circle cx="521.50" cy="381.30" r="1.7" fill="none" stroke="#f5222a" stroke-width="0.95"/>
<line x1="524.50" y1="352.50" x2="524.50" y2="377.50" stroke="#1e1e1e" stroke-width="1.1"/>
<line x1="515.50" y1="365.50" x2="533.50" y2="365.50" stroke="#1e1e1e" stroke-width="1.1"/>
<line x1="520.10" y1="352.50" x2="528.90" y2="352.50" stroke="#1e1e1e" stroke-width="1.1"/>
<line x1="520.10" y1="377.50" x2="528.90" y2="377.50" stroke="#1e1e1e" stroke-width="1.1"/>
<text x="524.50" y="342.60" font-size="6.0" text-anchor="middle" font-weight="bold" fill="#f5222a" stroke="#f5222a" stroke-width="0.07">232</text>
<path d="M554.50 335.44L556.46 338.87L552.54 338.87Z" fill="none" stroke="#2424f0" stroke-width="0.95"/>
<path d="M554.50 345.94L556.46 349.37L552.54 349.37Z" fill="none" stroke="#2424f0" stroke-width="0.95"/>
<path d="M554.50 358.35L556.46 361.77L552.54 361.77Z" fill="#2424f0" stroke="#2424f0" stroke-width="0.95"/>
<path d="M546.50 379.05L548.46 382.47L544.54 382.47Z" fill="none" stroke="#2424f0" stroke-width="0.95"/>
<path d="M550.50 379.05L552.46 382.47L548.54 382.47Z" fill="none" stroke="#2424f0" stroke-width="0.95"/>
<path d="M554.50 379.05L556.46 382.47L552.54 382.47Z" fill="none" stroke="#2424f0" stroke-width="0.95"/>
<path d="M558.50 379.05L560.46 382.47L556.54 382.47Z" fill="none" stroke="#2424f0" stroke-width="0.95"/>
<path d="M562.50 379.05L564.46 382.47L560.54 382.47Z" fill="none" stroke="#2424f0" stroke-width="0.95"/>
<line x1="554.50" y1="350.50" x2="554.50" y2="381.00" stroke="#1e1e1e" stroke-width="1.1"/>
<line x1="545.50" y1="368.50" x2="563.50" y2="368.50" stroke="#1e1e1e" stroke-width="1.1"/>
<line x1="550.10" y1="350.50" x2="558.90" y2="350.50" stroke="#1e1e1e" stroke-width="1.1"/>
<text x="554.50" y="332.60" font-size="6.0" text-anchor="middle" font-weight="bold" fill="#2424f0" stroke="#2424f0" stroke-width="0.07">73</text>
<line x1="349.30" y1="349.50" x2="378.55" y2="349.50" stroke="#333" stroke-width="1.25"/>
<text x="363.93" y="348.40" font-size="9.8" text-anchor="middle" fill="#2a2a2a" stroke="#2a2a2a" stroke-width="0.07">ns</text>
<line x1="407.80" y1="342.50" x2="437.05" y2="342.50" stroke="#333" stroke-width="1.25"/>
<text x="422.43" y="341.40" font-size="9.8" text-anchor="middle" fill="#2a2a2a" stroke="#2a2a2a" stroke-width="0.07">ns</text>
<line x1="466.30" y1="339.50" x2="495.55" y2="339.50" stroke="#333" stroke-width="1.25"/>
<text x="480.93" y="338.40" font-size="9.8" text-anchor="middle" fill="#2a2a2a" stroke="#2a2a2a" stroke-width="0.07">ns</text>
<line x1="524.80" y1="323.50" x2="554.05" y2="323.50" stroke="#333" stroke-width="1.25"/>
<text x="539.42" y="322.40" font-size="9.8" text-anchor="middle" fill="#2a2a2a" stroke="#2a2a2a" stroke-width="0.07">ns</text>
<text x="363.93" y="394.00" font-size="6.6" text-anchor="middle" fill="#1a1a1a" stroke="#1a1a1a" stroke-width="0.07">UKNP3.1.2</text>
<text x="363.93" y="402.60" font-size="6.6" text-anchor="middle" fill="#1a1a1a" stroke="#1a1a1a" stroke-width="0.07">(Tier 4)</text>
<text x="422.43" y="394.00" font-size="6.6" text-anchor="middle" fill="#1a1a1a" stroke="#1a1a1a" stroke-width="0.07">UKNP4.2.2</text>
<text x="422.43" y="402.60" font-size="6.6" text-anchor="middle" fill="#1a1a1a" stroke="#1a1a1a" stroke-width="0.07">(Tier 3)</text>
<text x="480.93" y="394.00" font-size="6.6" text-anchor="middle" fill="#1a1a1a" stroke="#1a1a1a" stroke-width="0.07">ED43</text>
<text x="480.93" y="402.60" font-size="6.6" text-anchor="middle" fill="#1a1a1a" stroke="#1a1a1a" stroke-width="0.07">(tier undefined)</text>
<text x="539.42" y="394.00" font-size="6.6" text-anchor="middle" fill="#1a1a1a" stroke="#1a1a1a" stroke-width="0.07">UKNP5.2.1</text>
<text x="539.42" y="402.60" font-size="6.6" text-anchor="middle" fill="#1a1a1a" stroke="#1a1a1a" stroke-width="0.07">Tier 1)</text>
<rect x="510.3" y="266.9" width="172.2" height="22.3" fill="none" stroke="#666" stroke-width="0.7"/>
<circle cx="517.80" cy="273.50" r="1.05" fill="#f5222a" fill-opacity="0.55" stroke="#f5222a" stroke-width="0.5"/>
<text x="523.60" y="275.70" font-size="6.65" fill="#1a1a1a" stroke="#1a1a1a" stroke-width="0.07" textLength="98.3" lengthAdjust="spacingAndGlyphs"><tspan>HCV-1 sE1E2.Cut</tspan><tspan font-size="4.79" dy="1.4">1+2</tspan><tspan dy="-1.4">-SPYΔN-His</tspan><tspan font-size="4.79" dy="1.4">6</tspan></text>
<path d="M518.00 282.40L519.30 284.70L516.70 284.70Z" fill="#2424f0" fill-opacity="0.7"/>
<text x="523.60" y="285.90" font-size="6.65" fill="#1a1a1a" stroke="#1a1a1a" stroke-width="0.07" textLength="134.2" lengthAdjust="spacingAndGlyphs"><tspan>HCV-1 sE1E2.Cut</tspan><tspan font-size="4.79" dy="1.4">1+2</tspan><tspan dy="-1.4">-SPYΔN-His</tspan><tspan font-size="4.79" dy="1.4">6</tspan><tspan dy="-1.4"> (Kif/endo F)</tspan></text>
<text x="0.80" y="433.30" font-size="15" font-weight="bold" fill="#000" stroke="#000" stroke-width="0.07">f</text>
<text x="24.50" y="433.60" font-size="9.1" fill="#1a1a1a" stroke="#1a1a1a" stroke-width="0.07" textLength="422.9" lengthAdjust="spacingAndGlyphs">HCV-1 sE1E2.Cut<tspan font-size="6.19" dy="1.8">1+2</tspan><tspan dy="-1.8">.SPYΔN (ExpiCHO) FR SApNP-induced NAb responses from an independent study</tspan></text>
<text x="32.70" y="450.00" font-size="8.0" fill="#1a1a1a" stroke="#1a1a1a" stroke-width="0.07">H77 (Genotype 1, Tier 2)</text>
<line x1="40.40" y1="473.30" x2="40.40" y2="540.30" stroke="#3a3a3a" stroke-width="1.0"/>
<line x1="35.40" y1="473.30" x2="40.40" y2="473.30" stroke="#3a3a3a" stroke-width="1.0"/>
<text x="34.40" y="476.83" font-size="9.8" text-anchor="end" fill="#1a1a1a" stroke="#1a1a1a" stroke-width="0.07">10<tspan font-size="5.88" dx="0.3" dy="-3.63">5</tspan></text>
<line x1="35.40" y1="492.90" x2="40.40" y2="492.90" stroke="#3a3a3a" stroke-width="1.0"/>
<text x="34.40" y="496.43" font-size="9.8" text-anchor="end" fill="#1a1a1a" stroke="#1a1a1a" stroke-width="0.07">10<tspan font-size="5.88" dx="0.3" dy="-3.63">4</tspan></text>
<line x1="35.40" y1="512.70" x2="40.40" y2="512.70" stroke="#3a3a3a" stroke-width="1.0"/>
<text x="34.40" y="516.23" font-size="9.8" text-anchor="end" fill="#1a1a1a" stroke="#1a1a1a" stroke-width="0.07">10<tspan font-size="5.88" dx="0.3" dy="-3.63">3</tspan></text>
<line x1="35.40" y1="532.60" x2="40.40" y2="532.60" stroke="#3a3a3a" stroke-width="1.0"/>
<text x="34.40" y="536.13" font-size="9.8" text-anchor="end" fill="#1a1a1a" stroke="#1a1a1a" stroke-width="0.07">10<tspan font-size="5.88" dx="0.3" dy="-3.63">2</tspan></text>
<line x1="40.40" y1="540.30" x2="285.80" y2="540.30" stroke="#666" stroke-width="1.2"/>
<line x1="103.50" y1="472.00" x2="103.50" y2="540.30" stroke="#8a8a8a" stroke-width="0.75" stroke-dasharray="1 1.1"/>
<line x1="163.10" y1="472.00" x2="163.10" y2="540.30" stroke="#8a8a8a" stroke-width="0.75" stroke-dasharray="1 1.1"/>
<line x1="221.80" y1="472.00" x2="221.80" y2="540.30" stroke="#8a8a8a" stroke-width="0.75" stroke-dasharray="1 1.1"/>
<text x="0.00" y="0.00" font-size="10.2" text-anchor="middle" fill="#1a1a1a" stroke="#1a1a1a" stroke-width="0.07" transform="translate(16.00 506.30) rotate(-90)">ID<tspan font-size="6.32" dy="2">50</tspan><tspan dy="-2"> titer</tspan></text>
<circle cx="51.50" cy="540.30" r="1.7" fill="none" stroke="#ec6a2e" stroke-width="0.95"/>
<circle cx="54.07" cy="540.30" r="1.7" fill="none" stroke="#ec6a2e" stroke-width="0.95"/>
<circle cx="56.64" cy="540.30" r="1.7" fill="none" stroke="#ec6a2e" stroke-width="0.95"/>
<circle cx="59.21" cy="540.30" r="1.7" fill="none" stroke="#ec6a2e" stroke-width="0.95"/>
<circle cx="61.79" cy="540.30" r="1.7" fill="none" stroke="#ec6a2e" stroke-width="0.95"/>
<circle cx="64.36" cy="540.30" r="1.7" fill="none" stroke="#ec6a2e" stroke-width="0.95"/>
<circle cx="66.93" cy="540.30" r="1.7" fill="none" stroke="#ec6a2e" stroke-width="0.95"/>
<circle cx="69.50" cy="540.30" r="1.7" fill="none" stroke="#ec6a2e" stroke-width="0.95"/>
<rect x="79.80" y="538.60" width="3.40" height="3.40" fill="none" stroke="#3b98b0" stroke-width="0.95"/>
<rect x="82.80" y="538.60" width="3.40" height="3.40" fill="none" stroke="#3b98b0" stroke-width="0.95"/>
<rect x="85.80" y="538.60" width="3.40" height="3.40" fill="none" stroke="#3b98b0" stroke-width="0.95"/>
<rect x="88.80" y="538.60" width="3.40" height="3.40" fill="none" stroke="#3b98b0" stroke-width="0.95"/>
<rect x="91.80" y="538.60" width="3.40" height="3.40" fill="none" stroke="#3b98b0" stroke-width="0.95"/>
<rect x="94.80" y="538.60" width="3.40" height="3.40" fill="none" stroke="#3b98b0" stroke-width="0.95"/>
<rect x="97.80" y="538.60" width="3.40" height="3.40" fill="none" stroke="#3b98b0" stroke-width="0.95"/>
<rect x="89.80" y="532.80" width="3.40" height="3.40" fill="none" stroke="#3b98b0" stroke-width="0.95"/>
<line x1="90.50" y1="537.50" x2="90.50" y2="540.30" stroke="#1e1e1e" stroke-width="1.1"/>
<line x1="80.80" y1="539.50" x2="100.20" y2="539.50" stroke="#1e1e1e" stroke-width="1.1"/>
<line x1="85.70" y1="537.50" x2="95.30" y2="537.50" stroke="#1e1e1e" stroke-width="1.1"/>
<circle cx="121.50" cy="506.10" r="1.7" fill="none" stroke="#ec6a2e" stroke-width="0.95"/>
<circle cx="116.00" cy="509.00" r="1.7" fill="none" stroke="#ec6a2e" stroke-width="0.95"/>
<circle cx="116.00" cy="514.10" r="1.7" fill="none" stroke="#ec6a2e" stroke-width="0.95"/>
<circle cx="121.50" cy="516.60" r="1.7" fill="none" stroke="#ec6a2e" stroke-width="0.95"/>
<circle cx="118.00" cy="522.60" r="1.7" fill="none" stroke="#ec6a2e" stroke-width="0.95"/>
<circle cx="118.50" cy="540.30" r="1.7" fill="none" stroke="#ec6a2e" stroke-width="0.95"/>
<line x1="118.50" y1="507.50" x2="118.50" y2="529.50" stroke="#1e1e1e" stroke-width="1.1"/>
<line x1="108.80" y1="518.50" x2="128.20" y2="518.50" stroke="#1e1e1e" stroke-width="1.1"/>
<line x1="113.70" y1="507.50" x2="123.30" y2="507.50" stroke="#1e1e1e" stroke-width="1.1"/>
<line x1="113.70" y1="529.50" x2="123.30" y2="529.50" stroke="#1e1e1e" stroke-width="1.1"/>
<text x="118.50" y="500.40" font-size="6.0" text-anchor="middle" font-weight="bold" fill="#ec6a2e" stroke="#ec6a2e" stroke-width="0.07">592</text>
<rect x="146.80" y="490.20" width="3.40" height="3.40" fill="none" stroke="#3b98b0" stroke-width="0.95"/>
<rect x="144.00" y="503.30" width="3.40" height="3.40" fill="none" stroke="#3b98b0" stroke-width="0.95"/>
<rect x="149.80" y="501.90" width="3.40" height="3.40" fill="none" stroke="#3b98b0" stroke-width="0.95"/>
<rect x="144.20" y="509.20" width="3.40" height="3.40" fill="none" stroke="#3b98b0" stroke-width="0.95"/>
<rect x="149.80" y="509.90" width="3.40" height="3.40" fill="none" stroke="#3b98b0" stroke-width="0.95"/>
<rect x="144.20" y="514.30" width="3.40" height="3.40" fill="none" stroke="#3b98b0" stroke-width="0.95"/>
<rect x="149.80" y="516.20" width="3.40" height="3.40" fill="none" stroke="#3b98b0" stroke-width="0.95"/>
<rect x="146.80" y="522.80" width="3.40" height="3.40" fill="none" stroke="#3b98b0" stroke-width="0.95"/>
<line x1="148.50" y1="500.50" x2="148.50" y2="520.50" stroke="#1e1e1e" stroke-width="1.1"/>
<line x1="138.80" y1="510.50" x2="158.20" y2="510.50" stroke="#1e1e1e" stroke-width="1.1"/>
<line x1="143.70" y1="500.50" x2="153.30" y2="500.50" stroke="#1e1e1e" stroke-width="1.1"/>
<line x1="143.70" y1="520.50" x2="153.30" y2="520.50" stroke="#1e1e1e" stroke-width="1.1"/>
<text x="148.50" y="487.60" font-size="6.0" text-anchor="middle" font-weight="bold" fill="#3b98b0" stroke="#3b98b0" stroke-width="0.07">1294</text>
<circle cx="174.50" cy="495.50" r="1.7" fill="none" stroke="#ec6a2e" stroke-width="0.95"/>
<circle cx="180.50" cy="495.50" r="1.7" fill="none" stroke="#ec6a2e" stroke-width="0.95"/>
<circle cx="174.50" cy="513.50" r="1.7" fill="none" stroke="#ec6a2e" stroke-width="0.95"/>
<circle cx="180.50" cy="515.30" r="1.7" fill="none" stroke="#ec6a2e" stroke-width="0.95"/>
<circle cx="177.50" cy="518.50" r="1.7" fill="none" stroke="#ec6a2e" stroke-width="0.95"/>
<circle cx="177.50" cy="521.20" r="1.7" fill="none" stroke="#ec6a2e" stroke-width="0.95"/>
<circle cx="177.50" cy="539.80" r="1.7" fill="none" stroke="#ec6a2e" stroke-width="0.95"/>
<line x1="177.50" y1="498.50" x2="177.50" y2="529.50" stroke="#1e1e1e" stroke-width="1.1"/>
<line x1="167.80" y1="514.50" x2="187.20" y2="514.50" stroke="#1e1e1e" stroke-width="1.1"/>
<line x1="172.70" y1="498.50" x2="182.30" y2="498.50" stroke="#1e1e1e" stroke-width="1.1"/>
<line x1="172.70" y1="529.50" x2="182.30" y2="529.50" stroke="#1e1e1e" stroke-width="1.1"/>
<text x="177.50" y="490.40" font-size="6.0" text-anchor="middle" font-weight="bold" fill="#ec6a2e" stroke="#ec6a2e" stroke-width="0.07">802</text>
<rect x="205.80" y="480.70" width="3.40" height="3.40" fill="none" stroke="#3b98b0" stroke-width="0.95"/>
<rect x="205.80" y="488.80" width="3.40" height="3.40" fill="none" stroke="#3b98b0" stroke-width="0.95"/>
<rect x="205.80" y="495.40" width="3.40" height="3.40" fill="none" stroke="#3b98b0" stroke-width="0.95"/>
<rect x="205.80" y="502.60" width="3.40" height="3.40" fill="#3b98b0" stroke="#3b98b0" stroke-width="0.95"/>
<rect x="208.80" y="507.90" width="3.40" height="3.40" fill="none" stroke="#3b98b0" stroke-width="0.95"/>
<rect x="202.80" y="510.30" width="3.40" height="3.40" fill="none" stroke="#3b98b0" stroke-width="0.95"/>
<rect x="205.80" y="519.90" width="3.40" height="3.40" fill="none" stroke="#3b98b0" stroke-width="0.95"/>
<line x1="207.50" y1="491.50" x2="207.50" y2="518.50" stroke="#1e1e1e" stroke-width="1.1"/>
<line x1="197.80" y1="504.50" x2="217.20" y2="504.50" stroke="#1e1e1e" stroke-width="1.1"/>
<line x1="202.70" y1="491.50" x2="212.30" y2="491.50" stroke="#1e1e1e" stroke-width="1.1"/>
<line x1="202.70" y1="518.50" x2="212.30" y2="518.50" stroke="#1e1e1e" stroke-width="1.1"/>
<text x="207.50" y="478.40" font-size="6.0" text-anchor="middle" font-weight="bold" fill="#3b98b0" stroke="#3b98b0" stroke-width="0.07">2435</text>
<circle cx="236.50" cy="501.90" r="1.7" fill="none" stroke="#ec6a2e" stroke-width="0.95"/>
<circle cx="231.50" cy="513.10" r="1.7" fill="none" stroke="#ec6a2e" stroke-width="0.95"/>
<circle cx="236.50" cy="513.10" r="1.7" fill="none" stroke="#ec6a2e" stroke-width="0.95"/>
<circle cx="241.50" cy="515.70" r="1.7" fill="none" stroke="#ec6a2e" stroke-width="0.95"/>
<circle cx="236.50" cy="532.80" r="1.7" fill="none" stroke="#ec6a2e" stroke-width="0.95"/>
<circle cx="236.50" cy="539.80" r="1.7" fill="none" stroke="#ec6a2e" stroke-width="0.95"/>
<line x1="236.50" y1="505.50" x2="236.50" y2="533.50" stroke="#1e1e1e" stroke-width="1.1"/>
<line x1="226.80" y1="519.50" x2="246.20" y2="519.50" stroke="#1e1e1e" stroke-width="1.1"/>
<line x1="231.70" y1="505.50" x2="241.30" y2="505.50" stroke="#1e1e1e" stroke-width="1.1"/>
<line x1="231.70" y1="533.50" x2="241.30" y2="533.50" stroke="#1e1e1e" stroke-width="1.1"/>
<text x="236.50" y="494.80" font-size="6.0" text-anchor="middle" font-weight="bold" fill="#ec6a2e" stroke="#ec6a2e" stroke-width="0.07">376</text>
<rect x="264.80" y="487.30" width="3.40" height="3.40" fill="none" stroke="#3b98b0" stroke-width="0.95"/>
<rect x="264.80" y="496.90" width="3.40" height="3.40" fill="none" stroke="#3b98b0" stroke-width="0.95"/>
<rect x="267.80" y="501.50" width="3.40" height="3.40" fill="none" stroke="#3b98b0" stroke-width="0.95"/>
<rect x="264.80" y="507.40" width="3.40" height="3.40" fill="none" stroke="#3b98b0" stroke-width="0.95"/>
<rect x="264.80" y="515.70" width="3.40" height="3.40" fill="none" stroke="#3b98b0" stroke-width="0.95"/>
<rect x="267.80" y="518.80" width="3.40" height="3.40" fill="none" stroke="#3b98b0" stroke-width="0.95"/>
<rect x="261.80" y="521.00" width="3.40" height="3.40" fill="none" stroke="#3b98b0" stroke-width="0.95"/>
<line x1="266.50" y1="496.50" x2="266.50" y2="519.50" stroke="#1e1e1e" stroke-width="1.1"/>
<line x1="256.80" y1="508.50" x2="276.20" y2="508.50" stroke="#1e1e1e" stroke-width="1.1"/>
<line x1="261.70" y1="496.50" x2="271.30" y2="496.50" stroke="#1e1e1e" stroke-width="1.1"/>
<line x1="261.70" y1="519.50" x2="271.30" y2="519.50" stroke="#1e1e1e" stroke-width="1.1"/>
<text x="266.50" y="483.80" font-size="6.0" text-anchor="middle" font-weight="bold" fill="#3b98b0" stroke="#3b98b0" stroke-width="0.07">1610</text>
<line x1="118.90" y1="476.50" x2="148.35" y2="476.50" stroke="#333" stroke-width="1.25"/>
<text x="133.62" y="475.40" font-size="9.8" text-anchor="middle" fill="#2a2a2a" stroke="#2a2a2a" stroke-width="0.07">ns</text>
<line x1="177.80" y1="466.50" x2="207.25" y2="466.50" stroke="#333" stroke-width="1.25"/>
<text x="192.53" y="465.40" font-size="9.8" text-anchor="middle" fill="#2a2a2a" stroke="#2a2a2a" stroke-width="0.07">ns</text>
<line x1="236.70" y1="473.50" x2="266.15" y2="473.50" stroke="#333" stroke-width="1.25"/>
<text x="251.42" y="472.40" font-size="9.8" text-anchor="middle" fill="#2a2a2a" stroke="#2a2a2a" stroke-width="0.07">ns</text>
<text x="75.25" y="552.90" font-size="6.6" text-anchor="middle" fill="#1a1a1a" stroke="#1a1a1a" stroke-width="0.07">W2</text>
<line x1="54.45" y1="549.20" x2="58.85" y2="549.20" stroke="#3a3a3a" stroke-width="1.0"/>
<line x1="91.35" y1="549.20" x2="96.35" y2="549.20" stroke="#3a3a3a" stroke-width="1.0"/>
<text x="133.62" y="552.90" font-size="6.6" text-anchor="middle" fill="#1a1a1a" stroke="#1a1a1a" stroke-width="0.07">W5</text>
<line x1="112.83" y1="549.20" x2="117.23" y2="549.20" stroke="#3a3a3a" stroke-width="1.0"/>
<line x1="149.72" y1="549.20" x2="154.72" y2="549.20" stroke="#3a3a3a" stroke-width="1.0"/>
<text x="192.53" y="552.90" font-size="6.6" text-anchor="middle" fill="#1a1a1a" stroke="#1a1a1a" stroke-width="0.07">W8</text>
<line x1="171.73" y1="549.20" x2="176.12" y2="549.20" stroke="#3a3a3a" stroke-width="1.0"/>
<line x1="208.62" y1="549.20" x2="213.62" y2="549.20" stroke="#3a3a3a" stroke-width="1.0"/>
<text x="251.42" y="552.90" font-size="6.6" text-anchor="middle" fill="#1a1a1a" stroke="#1a1a1a" stroke-width="0.07">W11</text>
<line x1="230.62" y1="549.20" x2="235.02" y2="549.20" stroke="#3a3a3a" stroke-width="1.0"/>
<line x1="267.52" y1="549.20" x2="272.52" y2="549.20" stroke="#3a3a3a" stroke-width="1.0"/>
<text x="296.00" y="451.50" font-size="15" font-weight="bold" fill="#000" stroke="#000" stroke-width="0.07">g</text>
<text x="318.00" y="451.20" font-size="8.0" fill="#1a1a1a" stroke="#1a1a1a" stroke-width="0.07">Other genotypes (w11)</text>
<line x1="330.20" y1="473.00" x2="330.20" y2="540.50" stroke="#3a3a3a" stroke-width="1.0"/>
<line x1="325.20" y1="473.00" x2="330.20" y2="473.00" stroke="#3a3a3a" stroke-width="1.0"/>
<text x="324.20" y="476.53" font-size="9.8" text-anchor="end" fill="#1a1a1a" stroke="#1a1a1a" stroke-width="0.07">10<tspan font-size="5.88" dx="0.3" dy="-3.63">5</tspan></text>
<line x1="325.20" y1="492.90" x2="330.20" y2="492.90" stroke="#3a3a3a" stroke-width="1.0"/>
<text x="324.20" y="496.43" font-size="9.8" text-anchor="end" fill="#1a1a1a" stroke="#1a1a1a" stroke-width="0.07">10<tspan font-size="5.88" dx="0.3" dy="-3.63">4</tspan></text>
<line x1="325.20" y1="512.70" x2="330.20" y2="512.70" stroke="#3a3a3a" stroke-width="1.0"/>
<text x="324.20" y="516.23" font-size="9.8" text-anchor="end" fill="#1a1a1a" stroke="#1a1a1a" stroke-width="0.07">10<tspan font-size="5.88" dx="0.3" dy="-3.63">3</tspan></text>
<line x1="325.20" y1="532.60" x2="330.20" y2="532.60" stroke="#3a3a3a" stroke-width="1.0"/>
<text x="324.20" y="536.13" font-size="9.8" text-anchor="end" fill="#1a1a1a" stroke="#1a1a1a" stroke-width="0.07">10<tspan font-size="5.88" dx="0.3" dy="-3.63">2</tspan></text>
<line x1="330.20" y1="540.50" x2="574.00" y2="540.50" stroke="#555" stroke-width="1.2"/>
<line x1="392.50" y1="472.00" x2="392.50" y2="540.50" stroke="#8a8a8a" stroke-width="0.75" stroke-dasharray="1 1.1"/>
<line x1="451.80" y1="472.00" x2="451.80" y2="540.50" stroke="#8a8a8a" stroke-width="0.75" stroke-dasharray="1 1.1"/>
<line x1="511.50" y1="472.00" x2="511.50" y2="540.50" stroke="#8a8a8a" stroke-width="0.75" stroke-dasharray="1 1.1"/>
<text x="0.00" y="0.00" font-size="10.8" text-anchor="middle" fill="#1a1a1a" stroke="#1a1a1a" stroke-width="0.07" transform="translate(305.90 503.30) rotate(-90)">ID<tspan font-size="6.70" dy="2">50</tspan><tspan dy="-2"> titer</tspan></text>
<circle cx="349.50" cy="526.60" r="1.7" fill="none" stroke="#ec6a2e" stroke-width="0.95"/>
<circle cx="346.50" cy="531.00" r="1.7" fill="none" stroke="#ec6a2e" stroke-width="0.95"/>
<circle cx="352.50" cy="532.30" r="1.7" fill="none" stroke="#ec6a2e" stroke-width="0.95"/>
<circle cx="346.50" cy="533.20" r="1.7" fill="none" stroke="#ec6a2e" stroke-width="0.95"/>
<circle cx="346.50" cy="540.20" r="1.7" fill="none" stroke="#ec6a2e" stroke-width="0.95"/>
<circle cx="352.50" cy="538.90" r="1.7" fill="none" stroke="#ec6a2e" stroke-width="0.95"/>
<line x1="349.50" y1="529.50" x2="349.50" y2="540.50" stroke="#1e1e1e" stroke-width="1.1"/>
<line x1="339.90" y1="534.50" x2="359.10" y2="534.50" stroke="#1e1e1e" stroke-width="1.1"/>
<line x1="344.90" y1="529.50" x2="354.10" y2="529.50" stroke="#1e1e1e" stroke-width="1.1"/>
<text x="349.50" y="521.40" font-size="6.0" text-anchor="middle" font-weight="bold" fill="#ec6a2e" stroke="#ec6a2e" stroke-width="0.07">77</text>
<rect x="382.30" y="521.90" width="3.40" height="3.40" fill="none" stroke="#3b98b0" stroke-width="0.95"/>
<rect x="371.00" y="524.90" width="3.40" height="3.40" fill="none" stroke="#3b98b0" stroke-width="0.95"/>
<rect x="376.80" y="523.80" width="3.40" height="3.40" fill="none" stroke="#3b98b0" stroke-width="0.95"/>
<rect x="382.30" y="526.10" width="3.40" height="3.40" fill="none" stroke="#3b98b0" stroke-width="0.95"/>
<rect x="382.30" y="529.30" width="3.40" height="3.40" fill="none" stroke="#3b98b0" stroke-width="0.95"/>
<rect x="376.80" y="531.10" width="3.40" height="3.40" fill="none" stroke="#3b98b0" stroke-width="0.95"/>
<rect x="376.80" y="538.50" width="3.40" height="3.40" fill="none" stroke="#3b98b0" stroke-width="0.95"/>
<line x1="378.50" y1="523.50" x2="378.50" y2="534.50" stroke="#1e1e1e" stroke-width="1.1"/>
<line x1="368.90" y1="529.50" x2="388.10" y2="529.50" stroke="#1e1e1e" stroke-width="1.1"/>
<line x1="373.90" y1="523.50" x2="383.10" y2="523.50" stroke="#1e1e1e" stroke-width="1.1"/>
<line x1="373.90" y1="534.50" x2="383.10" y2="534.50" stroke="#1e1e1e" stroke-width="1.1"/>
<text x="378.50" y="517.90" font-size="6.0" text-anchor="middle" font-weight="bold" fill="#3b98b0" stroke="#3b98b0" stroke-width="0.07">137</text>
<circle cx="407.50" cy="528.10" r="1.7" fill="none" stroke="#ec6a2e" stroke-width="0.95"/>
<circle cx="402.20" cy="540.30" r="1.7" fill="none" stroke="#ec6a2e" stroke-width="0.95"/>
<circle cx="407.50" cy="535.60" r="1.7" fill="none" stroke="#ec6a2e" stroke-width="0.95"/>
<circle cx="407.50" cy="538.70" r="1.7" fill="none" stroke="#ec6a2e" stroke-width="0.95"/>
<circle cx="412.80" cy="537.40" r="1.7" fill="none" stroke="#ec6a2e" stroke-width="0.95"/>
<circle cx="412.80" cy="540.30" r="1.7" fill="none" stroke="#ec6a2e" stroke-width="0.95"/>
<line x1="407.50" y1="532.50" x2="407.50" y2="540.50" stroke="#1e1e1e" stroke-width="1.1"/>
<line x1="397.90" y1="536.50" x2="417.10" y2="536.50" stroke="#1e1e1e" stroke-width="1.1"/>
<line x1="402.90" y1="532.50" x2="412.10" y2="532.50" stroke="#1e1e1e" stroke-width="1.1"/>
<text x="407.50" y="519.90" font-size="6.0" text-anchor="middle" font-weight="bold" fill="#ec6a2e" stroke="#ec6a2e" stroke-width="0.07">37</text>
<rect x="435.80" y="510.50" width="3.40" height="3.40" fill="none" stroke="#3b98b0" stroke-width="0.95"/>
<rect x="430.00" y="518.70" width="3.40" height="3.40" fill="none" stroke="#3b98b0" stroke-width="0.95"/>
<rect x="441.10" y="519.30" width="3.40" height="3.40" fill="none" stroke="#3b98b0" stroke-width="0.95"/>
<rect x="435.80" y="520.70" width="3.40" height="3.40" fill="none" stroke="#3b98b0" stroke-width="0.95"/>
<rect x="433.10" y="525.50" width="3.40" height="3.40" fill="none" stroke="#3b98b0" stroke-width="0.95"/>
<rect x="438.40" y="524.20" width="3.40" height="3.40" fill="none" stroke="#3b98b0" stroke-width="0.95"/>
<rect x="438.40" y="529.30" width="3.40" height="3.40" fill="none" stroke="#3b98b0" stroke-width="0.95"/>
<rect x="433.10" y="531.30" width="3.40" height="3.40" fill="none" stroke="#3b98b0" stroke-width="0.95"/>
<line x1="437.50" y1="517.50" x2="437.50" y2="530.50" stroke="#1e1e1e" stroke-width="1.1"/>
<line x1="427.90" y1="524.50" x2="447.10" y2="524.50" stroke="#1e1e1e" stroke-width="1.1"/>
<line x1="432.90" y1="517.50" x2="442.10" y2="517.50" stroke="#1e1e1e" stroke-width="1.1"/>
<line x1="432.90" y1="530.50" x2="442.10" y2="530.50" stroke="#1e1e1e" stroke-width="1.1"/>
<text x="437.50" y="505.80" font-size="6.0" text-anchor="middle" font-weight="bold" fill="#3b98b0" stroke="#3b98b0" stroke-width="0.07">264</text>
<circle cx="466.50" cy="504.00" r="1.7" fill="none" stroke="#ec6a2e" stroke-width="0.95"/>
<circle cx="466.50" cy="507.00" r="1.7" fill="none" stroke="#ec6a2e" stroke-width="0.95"/>
<circle cx="458.50" cy="537.30" r="1.7" fill="none" stroke="#ec6a2e" stroke-width="0.95"/>
<circle cx="458.50" cy="539.50" r="1.7" fill="none" stroke="#ec6a2e" stroke-width="0.95"/>
<circle cx="469.50" cy="539.50" r="1.7" fill="none" stroke="#ec6a2e" stroke-width="0.95"/>
<circle cx="474.50" cy="538.80" r="1.7" fill="none" stroke="#ec6a2e" stroke-width="0.95"/>
<line x1="466.50" y1="510.50" x2="466.50" y2="540.50" stroke="#1e1e1e" stroke-width="1.1"/>
<line x1="456.90" y1="527.50" x2="476.10" y2="527.50" stroke="#1e1e1e" stroke-width="1.1"/>
<line x1="461.90" y1="510.50" x2="471.10" y2="510.50" stroke="#1e1e1e" stroke-width="1.1"/>
<text x="466.50" y="495.80" font-size="6.0" text-anchor="middle" font-weight="bold" fill="#ec6a2e" stroke="#ec6a2e" stroke-width="0.07">128</text>
<rect x="493.80" y="497.40" width="3.40" height="3.40" fill="none" stroke="#3b98b0" stroke-width="0.95"/>
<rect x="490.80" y="503.30" width="3.40" height="3.40" fill="none" stroke="#3b98b0" stroke-width="0.95"/>
<rect x="496.80" y="508.30" width="3.40" height="3.40" fill="none" stroke="#3b98b0" stroke-width="0.95"/>
<rect x="490.80" y="512.80" width="3.40" height="3.40" fill="none" stroke="#3b98b0" stroke-width="0.95"/>
<rect x="496.80" y="514.70" width="3.40" height="3.40" fill="none" stroke="#3b98b0" stroke-width="0.95"/>
<rect x="493.80" y="525.70" width="3.40" height="3.40" fill="none" stroke="#3b98b0" stroke-width="0.95"/>
<rect x="496.80" y="535.80" width="3.40" height="3.40" fill="none" stroke="#3b98b0" stroke-width="0.95"/>
<rect x="490.80" y="538.10" width="3.40" height="3.40" fill="none" stroke="#3b98b0" stroke-width="0.95"/>
<line x1="495.50" y1="505.50" x2="495.50" y2="534.50" stroke="#1e1e1e" stroke-width="1.1"/>
<line x1="485.90" y1="519.50" x2="505.10" y2="519.50" stroke="#1e1e1e" stroke-width="1.1"/>
<line x1="490.90" y1="505.50" x2="500.10" y2="505.50" stroke="#1e1e1e" stroke-width="1.1"/>
<line x1="490.90" y1="534.50" x2="500.10" y2="534.50" stroke="#1e1e1e" stroke-width="1.1"/>
<text x="495.50" y="492.10" font-size="6.0" text-anchor="middle" font-weight="bold" fill="#3b98b0" stroke="#3b98b0" stroke-width="0.07">374</text>
<circle cx="525.50" cy="520.20" r="1.7" fill="none" stroke="#ec6a2e" stroke-width="0.95"/>
<circle cx="525.50" cy="535.60" r="1.7" fill="none" stroke="#ec6a2e" stroke-width="0.95"/>
<circle cx="517.50" cy="540.50" r="1.7" fill="none" stroke="#ec6a2e" stroke-width="0.95"/>
<circle cx="522.50" cy="540.50" r="1.7" fill="none" stroke="#ec6a2e" stroke-width="0.95"/>
<circle cx="528.50" cy="540.50" r="1.7" fill="none" stroke="#ec6a2e" stroke-width="0.95"/>
<circle cx="533.50" cy="540.50" r="1.7" fill="none" stroke="#ec6a2e" stroke-width="0.95"/>
<line x1="525.50" y1="528.50" x2="525.50" y2="540.50" stroke="#1e1e1e" stroke-width="1.1"/>
<line x1="515.90" y1="536.50" x2="535.10" y2="536.50" stroke="#1e1e1e" stroke-width="1.1"/>
<line x1="520.90" y1="528.50" x2="530.10" y2="528.50" stroke="#1e1e1e" stroke-width="1.1"/>
<text x="525.50" y="513.20" font-size="6.0" text-anchor="middle" font-weight="bold" fill="#ec6a2e" stroke="#ec6a2e" stroke-width="0.07">33</text>
<rect x="552.80" y="479.30" width="3.40" height="3.40" fill="none" stroke="#3b98b0" stroke-width="0.95"/>
<rect x="552.80" y="494.10" width="3.40" height="3.40" fill="none" stroke="#3b98b0" stroke-width="0.95"/>
<rect x="546.80" y="497.40" width="3.40" height="3.40" fill="none" stroke="#3b98b0" stroke-width="0.95"/>
<rect x="552.80" y="497.90" width="3.40" height="3.40" fill="none" stroke="#3b98b0" stroke-width="0.95"/>
<rect x="558.80" y="498.60" width="3.40" height="3.40" fill="none" stroke="#3b98b0" stroke-width="0.95"/>
<rect x="552.80" y="532.60" width="3.40" height="3.40" fill="none" stroke="#3b98b0" stroke-width="0.95"/>
<rect x="549.80" y="538.80" width="3.40" height="3.40" fill="none" stroke="#3b98b0" stroke-width="0.95"/>
<rect x="555.80" y="538.80" width="3.40" height="3.40" fill="none" stroke="#3b98b0" stroke-width="0.95"/>
<line x1="554.50" y1="488.50" x2="554.50" y2="534.50" stroke="#1e1e1e" stroke-width="1.1"/>
<line x1="544.90" y1="511.50" x2="564.10" y2="511.50" stroke="#1e1e1e" stroke-width="1.1"/>
<line x1="549.90" y1="488.50" x2="559.10" y2="488.50" stroke="#1e1e1e" stroke-width="1.1"/>
<line x1="549.90" y1="534.50" x2="559.10" y2="534.50" stroke="#1e1e1e" stroke-width="1.1"/>
<text x="554.50" y="476.00" font-size="6.0" text-anchor="middle" font-weight="bold" fill="#3b98b0" stroke="#3b98b0" stroke-width="0.07">1062</text>
<line x1="349.40" y1="507.50" x2="378.90" y2="507.50" stroke="#333" stroke-width="1.25"/>
<text x="364.15" y="506.40" font-size="9.8" text-anchor="middle" fill="#2a2a2a" stroke="#2a2a2a" stroke-width="0.07">ns</text>
<line x1="407.30" y1="496.50" x2="435.90" y2="496.50" stroke="#333" stroke-width="1.25"/>
<text x="421.60" y="496.80" font-size="9.5" text-anchor="middle" fill="#2a2a2a" stroke="#2a2a2a" stroke-width="0.07">*</text>
<text x="420.80" y="488.90" font-size="6.8" text-anchor="middle" fill="#2a2a2a" stroke="#2a2a2a" stroke-width="0.07">0.0483</text>
<line x1="466.60" y1="480.50" x2="495.80" y2="480.50" stroke="#333" stroke-width="1.25"/>
<text x="481.20" y="479.40" font-size="9.8" text-anchor="middle" fill="#2a2a2a" stroke="#2a2a2a" stroke-width="0.07">ns</text>
<line x1="525.10" y1="467.50" x2="554.70" y2="467.50" stroke="#333" stroke-width="1.25"/>
<text x="539.90" y="466.40" font-size="9.8" text-anchor="middle" fill="#2a2a2a" stroke="#2a2a2a" stroke-width="0.07">ns</text>
<text x="364.15" y="553.30" font-size="6.6" text-anchor="middle" fill="#1a1a1a" stroke="#1a1a1a" stroke-width="0.07">UKNP3.1.2</text>
<text x="364.15" y="561.30" font-size="6.6" text-anchor="middle" fill="#1a1a1a" stroke="#1a1a1a" stroke-width="0.07">(Tier 4)</text>
<text x="422.60" y="553.30" font-size="6.6" text-anchor="middle" fill="#1a1a1a" stroke="#1a1a1a" stroke-width="0.07">UKNP4.2.2</text>
<text x="422.60" y="561.30" font-size="6.6" text-anchor="middle" fill="#1a1a1a" stroke="#1a1a1a" stroke-width="0.07">(Tier 3)</text>
<text x="481.20" y="553.30" font-size="6.6" text-anchor="middle" fill="#1a1a1a" stroke="#1a1a1a" stroke-width="0.07">ED43</text>
<text x="481.20" y="561.30" font-size="6.6" text-anchor="middle" fill="#1a1a1a" stroke="#1a1a1a" stroke-width="0.07">(tier undefined)</text>
<text x="539.90" y="553.30" font-size="6.6" text-anchor="middle" fill="#1a1a1a" stroke="#1a1a1a" stroke-width="0.07">UKNP5.2.1</text>
<text x="539.90" y="561.30" font-size="6.6" text-anchor="middle" fill="#1a1a1a" stroke="#1a1a1a" stroke-width="0.07">(Tier 1)</text>
<rect x="496.4" y="425.6" width="187.1" height="22.9" fill="none" stroke="#666" stroke-width="0.7"/>
<circle cx="501.50" cy="432.00" r="1.05" fill="#ec6a2e" fill-opacity="0.55" stroke="#ec6a2e" stroke-width="0.5"/>
<text x="507.20" y="434.60" font-size="6.65" fill="#1a1a1a" stroke="#1a1a1a" stroke-width="0.07" textLength="136.9" lengthAdjust="spacingAndGlyphs"><tspan>HCV-1 sE1E2.Cut</tspan><tspan font-size="4.79" dy="1.4">1+2</tspan><tspan dy="-1.4">.SPYΔN-10GS-FR SApNP</tspan></text>
<rect x="500.65" y="442.35" width="2.1" height="2.1" fill="#3b98b0" fill-opacity="0.4" stroke="#3b98b0" stroke-width="0.5"/>
<text x="507.60" y="445.50" font-size="6.65" fill="#1a1a1a" stroke="#1a1a1a" stroke-width="0.07" textLength="173.5" lengthAdjust="spacingAndGlyphs"><tspan>HCV-1 sE1E2.Cut</tspan><tspan font-size="4.79" dy="1.4">1+2</tspan><tspan dy="-1.4">.SPYΔN-10GS-FR SApNP</tspan><tspan> (Kif-treated)</tspan></text>
<text x="1.50" y="584.00" font-size="15" font-weight="bold" fill="#000" stroke="#000" stroke-width="0.07">h</text>
<text x="23.80" y="583.50" font-size="9.1" fill="#1a1a1a" stroke="#1a1a1a" stroke-width="0.07" textLength="232.9" lengthAdjust="spacingAndGlyphs">HCV-1 sE1E2.Cut<tspan font-size="6.19" dy="1.8">1+2</tspan><tspan dy="-1.8">.SPYΔN/AH-induced NAb responses</tspan></text>
<text x="43.00" y="604.70" font-size="7.9" fill="#1a1a1a" stroke="#1a1a1a" stroke-width="0.07">Female mice</text>
<text x="142.70" y="604.50" font-size="7.9" fill="#1a1a1a" stroke="#1a1a1a" stroke-width="0.07">Male mice</text>
<line x1="45.30" y1="624.90" x2="45.30" y2="722.20" stroke="#3a3a3a" stroke-width="1.0"/>
<line x1="39.30" y1="624.90" x2="45.30" y2="624.90" stroke="#3a3a3a" stroke-width="1.0"/>
<text x="38.30" y="628.72" font-size="10.6" text-anchor="end" fill="#1a1a1a" stroke="#1a1a1a" stroke-width="0.07">10<tspan font-size="6.36" dx="0.3" dy="-3.92">5</tspan></text>
<line x1="39.30" y1="653.40" x2="45.30" y2="653.40" stroke="#3a3a3a" stroke-width="1.0"/>
<text x="38.30" y="657.22" font-size="10.6" text-anchor="end" fill="#1a1a1a" stroke="#1a1a1a" stroke-width="0.07">10<tspan font-size="6.36" dx="0.3" dy="-3.92">4</tspan></text>
<line x1="39.30" y1="682.00" x2="45.30" y2="682.00" stroke="#3a3a3a" stroke-width="1.0"/>
<text x="38.30" y="685.82" font-size="10.6" text-anchor="end" fill="#1a1a1a" stroke="#1a1a1a" stroke-width="0.07">10<tspan font-size="6.36" dx="0.3" dy="-3.92">3</tspan></text>
<line x1="39.30" y1="710.70" x2="45.30" y2="710.70" stroke="#3a3a3a" stroke-width="1.0"/>
<text x="38.30" y="714.52" font-size="10.6" text-anchor="end" fill="#1a1a1a" stroke="#1a1a1a" stroke-width="0.07">10<tspan font-size="6.36" dx="0.3" dy="-3.92">2</tspan></text>
<line x1="45.30" y1="722.20" x2="95.60" y2="722.20" stroke="#3a3a3a" stroke-width="1.0"/>
<text x="0.00" y="0.00" font-size="10.8" text-anchor="middle" fill="#1a1a1a" stroke="#1a1a1a" stroke-width="0.07" transform="translate(17.30 667.50) rotate(-90)">ID<tspan font-size="6.70" dy="2">50</tspan><tspan dy="-2"> titer</tspan></text>
<circle cx="57.50" cy="687.80" r="1.9" fill="none" stroke="#f5222a" stroke-width="0.95"/>
<circle cx="63.50" cy="687.40" r="1.9" fill="none" stroke="#f5222a" stroke-width="0.95"/>
<circle cx="64.50" cy="691.20" r="1.9" fill="none" stroke="#f5222a" stroke-width="0.95"/>
<circle cx="60.50" cy="698.70" r="1.9" fill="none" stroke="#f5222a" stroke-width="0.95"/>
<circle cx="60.50" cy="704.10" r="1.9" fill="none" stroke="#f5222a" stroke-width="0.95"/>
<circle cx="60.50" cy="708.70" r="1.9" fill="none" stroke="#f5222a" stroke-width="0.95"/>
<circle cx="63.50" cy="713.20" r="1.9" fill="none" stroke="#f5222a" stroke-width="0.95"/>
<circle cx="57.50" cy="716.10" r="1.9" fill="none" stroke="#f5222a" stroke-width="0.95"/>
<line x1="60.50" y1="690.50" x2="60.50" y2="712.50" stroke="#1e1e1e" stroke-width="1.1"/>
<line x1="53.40" y1="701.50" x2="67.60" y2="701.50" stroke="#1e1e1e" stroke-width="1.1"/>
<line x1="56.60" y1="690.50" x2="64.40" y2="690.50" stroke="#1e1e1e" stroke-width="1.1"/>
<line x1="56.60" y1="712.50" x2="64.40" y2="712.50" stroke="#1e1e1e" stroke-width="1.1"/>
<text x="60.50" y="682.60" font-size="7.3" text-anchor="middle" font-weight="bold" fill="#f5222a" stroke="#f5222a" stroke-width="0.07">211</text>
<rect x="79.60" y="695.00" width="3.80" height="3.80" fill="none" stroke="#2f9a32" stroke-width="0.95"/>
<rect x="79.60" y="697.90" width="3.80" height="3.80" fill="#2f9a32" stroke="#2f9a32" stroke-width="0.95"/>
<rect x="74.60" y="703.60" width="3.80" height="3.80" fill="none" stroke="#2f9a32" stroke-width="0.95"/>
<rect x="84.60" y="703.60" width="3.80" height="3.80" fill="none" stroke="#2f9a32" stroke-width="0.95"/>
<rect x="79.60" y="705.20" width="3.80" height="3.80" fill="none" stroke="#2f9a32" stroke-width="0.95"/>
<rect x="79.60" y="708.60" width="3.80" height="3.80" fill="none" stroke="#2f9a32" stroke-width="0.95"/>
<rect x="79.60" y="718.80" width="3.80" height="3.80" fill="none" stroke="#2f9a32" stroke-width="0.95"/>
<line x1="81.50" y1="699.50" x2="81.50" y2="714.50" stroke="#1e1e1e" stroke-width="1.1"/>
<line x1="74.40" y1="706.50" x2="88.60" y2="706.50" stroke="#1e1e1e" stroke-width="1.1"/>
<line x1="77.60" y1="699.50" x2="85.40" y2="699.50" stroke="#1e1e1e" stroke-width="1.1"/>
<line x1="77.60" y1="714.50" x2="85.40" y2="714.50" stroke="#1e1e1e" stroke-width="1.1"/>
<text x="81.50" y="690.00" font-size="7.3" text-anchor="middle" font-weight="bold" fill="#2f9a32" stroke="#2f9a32" stroke-width="0.07">138</text>
<line x1="60.70" y1="672.50" x2="81.10" y2="672.50" stroke="#333" stroke-width="1.25"/>
<text x="70.90" y="671.40" font-size="10.5" text-anchor="middle" fill="#2a2a2a" stroke="#2a2a2a" stroke-width="0.07">ns</text>
<text x="70.30" y="736.30" font-size="6.6" text-anchor="middle" fill="#1a1a1a" stroke="#1a1a1a" stroke-width="0.07">W11</text>
<line x1="48.10" y1="732.40" x2="55.30" y2="732.40" stroke="#3a3a3a" stroke-width="1.0"/>
<line x1="87.30" y1="732.40" x2="94.50" y2="732.40" stroke="#3a3a3a" stroke-width="1.0"/>
<line x1="143.70" y1="625.00" x2="143.70" y2="722.40" stroke="#3a3a3a" stroke-width="1.0"/>
<line x1="137.70" y1="625.00" x2="143.70" y2="625.00" stroke="#3a3a3a" stroke-width="1.0"/>
<text x="136.70" y="628.82" font-size="10.6" text-anchor="end" fill="#1a1a1a" stroke="#1a1a1a" stroke-width="0.07">10<tspan font-size="6.36" dx="0.3" dy="-3.92">5</tspan></text>
<line x1="137.70" y1="653.50" x2="143.70" y2="653.50" stroke="#3a3a3a" stroke-width="1.0"/>
<text x="136.70" y="657.32" font-size="10.6" text-anchor="end" fill="#1a1a1a" stroke="#1a1a1a" stroke-width="0.07">10<tspan font-size="6.36" dx="0.3" dy="-3.92">4</tspan></text>
<line x1="137.70" y1="682.50" x2="143.70" y2="682.50" stroke="#3a3a3a" stroke-width="1.0"/>
<text x="136.70" y="686.32" font-size="10.6" text-anchor="end" fill="#1a1a1a" stroke="#1a1a1a" stroke-width="0.07">10<tspan font-size="6.36" dx="0.3" dy="-3.92">3</tspan></text>
<line x1="137.70" y1="711.20" x2="143.70" y2="711.20" stroke="#3a3a3a" stroke-width="1.0"/>
<text x="136.70" y="715.02" font-size="10.6" text-anchor="end" fill="#1a1a1a" stroke="#1a1a1a" stroke-width="0.07">10<tspan font-size="6.36" dx="0.3" dy="-3.92">2</tspan></text>
<line x1="143.70" y1="722.40" x2="194.60" y2="722.40" stroke="#3a3a3a" stroke-width="1.0"/>
<text x="0.00" y="0.00" font-size="10.8" text-anchor="middle" fill="#1a1a1a" stroke="#1a1a1a" stroke-width="0.07" transform="translate(115.60 667.00) rotate(-90)">ID<tspan font-size="6.70" dy="2">50</tspan><tspan dy="-2"> titer</tspan></text>
<circle cx="157.50" cy="698.60" r="1.9" fill="none" stroke="#f5222a" stroke-width="0.95"/>
<circle cx="152.50" cy="705.60" r="1.9" fill="none" stroke="#f5222a" stroke-width="0.95"/>
<circle cx="163.50" cy="705.60" r="1.9" fill="none" stroke="#f5222a" stroke-width="0.95"/>
<circle cx="152.50" cy="712.60" r="1.9" fill="none" stroke="#f5222a" stroke-width="0.95"/>
<circle cx="157.50" cy="716.10" r="1.9" fill="none" stroke="#f5222a" stroke-width="0.95"/>
<circle cx="152.50" cy="722.40" r="1.9" fill="none" stroke="#f5222a" stroke-width="0.95"/>
<circle cx="157.50" cy="722.40" r="1.9" fill="none" stroke="#f5222a" stroke-width="0.95"/>
<circle cx="162.50" cy="722.40" r="1.9" fill="none" stroke="#f5222a" stroke-width="0.95"/>
<line x1="157.50" y1="704.50" x2="157.50" y2="722.50" stroke="#1e1e1e" stroke-width="1.1"/>
<line x1="150.40" y1="713.50" x2="164.60" y2="713.50" stroke="#1e1e1e" stroke-width="1.1"/>
<line x1="153.60" y1="704.50" x2="161.40" y2="704.50" stroke="#1e1e1e" stroke-width="1.1"/>
<line x1="153.60" y1="722.50" x2="161.40" y2="722.50" stroke="#1e1e1e" stroke-width="1.1"/>
<text x="157.50" y="692.00" font-size="7.3" text-anchor="middle" font-weight="bold" fill="#f5222a" stroke="#f5222a" stroke-width="0.07">56</text>
<rect x="176.60" y="690.90" width="3.80" height="3.80" fill="none" stroke="#2f9a32" stroke-width="0.95"/>
<rect x="176.60" y="694.40" width="3.80" height="3.80" fill="none" stroke="#2f9a32" stroke-width="0.95"/>
<rect x="171.60" y="707.20" width="3.80" height="3.80" fill="none" stroke="#2f9a32" stroke-width="0.95"/>
<rect x="181.60" y="707.20" width="3.80" height="3.80" fill="none" stroke="#2f9a32" stroke-width="0.95"/>
<rect x="176.60" y="709.60" width="3.80" height="3.80" fill="#2f9a32" stroke="#2f9a32" stroke-width="0.95"/>
<rect x="171.60" y="711.90" width="3.80" height="3.80" fill="none" stroke="#2f9a32" stroke-width="0.95"/>
<rect x="181.60" y="711.90" width="3.80" height="3.80" fill="none" stroke="#2f9a32" stroke-width="0.95"/>
<rect x="176.60" y="717.70" width="3.80" height="3.80" fill="none" stroke="#2f9a32" stroke-width="0.95"/>
<line x1="178.50" y1="700.50" x2="178.50" y2="717.50" stroke="#1e1e1e" stroke-width="1.1"/>
<line x1="171.40" y1="709.50" x2="185.60" y2="709.50" stroke="#1e1e1e" stroke-width="1.1"/>
<line x1="174.60" y1="700.50" x2="182.40" y2="700.50" stroke="#1e1e1e" stroke-width="1.1"/>
<line x1="174.60" y1="717.50" x2="182.40" y2="717.50" stroke="#1e1e1e" stroke-width="1.1"/>
<text x="178.50" y="687.60" font-size="7.3" text-anchor="middle" font-weight="bold" fill="#2f9a32" stroke="#2f9a32" stroke-width="0.07">113</text>
<line x1="157.40" y1="674.50" x2="178.50" y2="674.50" stroke="#333" stroke-width="1.25"/>
<text x="167.95" y="673.40" font-size="10.5" text-anchor="middle" fill="#2a2a2a" stroke="#2a2a2a" stroke-width="0.07">ns</text>
<text x="169.60" y="736.30" font-size="6.6" text-anchor="middle" fill="#1a1a1a" stroke="#1a1a1a" stroke-width="0.07">W11</text>
<line x1="146.20" y1="732.50" x2="153.40" y2="732.50" stroke="#3a3a3a" stroke-width="1.0"/>
<line x1="185.80" y1="732.50" x2="193.00" y2="732.50" stroke="#3a3a3a" stroke-width="1.0"/>
<rect x="155.4" y="612.4" width="88.1" height="38.2" fill="#fff" stroke="#666" stroke-width="0.7"/>
<circle cx="163.00" cy="624.80" r="1.05" fill="#f5222a" fill-opacity="0.55" stroke="#f5222a" stroke-width="0.5"/>
<rect x="161.95" y="640.15" width="2.1" height="2.1" fill="#2f9a32" fill-opacity="0.4" stroke="#2f9a32" stroke-width="0.5"/>
<text x="168.40" y="621.60" font-size="6.55" fill="#1a1a1a" stroke="#1a1a1a" stroke-width="0.07"><tspan>HCV-1 sE1E2.Cut</tspan><tspan font-size="4.72" dy="1.4">1+2</tspan><tspan dy="-1.4">-</tspan></text>
<text x="168.40" y="628.80" font-size="6.55" fill="#1a1a1a" stroke="#1a1a1a" stroke-width="0.07"><tspan>SPYΔN-His</tspan><tspan font-size="4.72" dy="1.4">8</tspan></text>
<text x="168.40" y="638.90" font-size="6.55" fill="#1a1a1a" stroke="#1a1a1a" stroke-width="0.07"><tspan>HCV-1 sE1E2.Cut</tspan><tspan font-size="4.72" dy="1.4">1+2</tspan><tspan dy="-1.4">-</tspan></text>
<text x="168.40" y="646.30" font-size="6.55" fill="#1a1a1a" stroke="#1a1a1a" stroke-width="0.07" textLength="72.8" lengthAdjust="spacingAndGlyphs"><tspan>SPYΔN-His</tspan><tspan font-size="4.72" dy="1.4">8</tspan><tspan dy="-1.4"> (Kif-treated)</tspan></text>
<text x="286.50" y="584.90" font-size="15" font-weight="bold" fill="#000" stroke="#000" stroke-width="0.07">i</text>
<text x="310.90" y="582.50" font-size="9.1" fill="#1a1a1a" stroke="#1a1a1a" stroke-width="0.07" textLength="301.3" lengthAdjust="spacingAndGlyphs">HCV-1 sE1E2.Cut<tspan font-size="6.19" dy="1.8">1+2</tspan><tspan dy="-1.8">.SPYΔN/AH-induced germinal center (GC) responses</tspan></text>
<text x="359.40" y="614.60" font-size="9.2" text-anchor="middle" fill="#1a1a1a" stroke="#1a1a1a" stroke-width="0.07">GC B cells</text>
<text x="532.80" y="615.10" font-size="9.2" fill="#1a1a1a" stroke="#1a1a1a" stroke-width="0.07">T<tspan font-size="5.8" dy="1.8">fh</tspan><tspan dy="-1.8"> cells</tspan></text>
<line x1="304.20" y1="623.60" x2="304.20" y2="723.20" stroke="#3a3a3a" stroke-width="1.3"/>
<line x1="300.60" y1="624.20" x2="304.20" y2="624.20" stroke="#3a3a3a" stroke-width="1.1"/>
<text x="299.40" y="626.80" font-size="7.4" text-anchor="end" fill="#1a1a1a" stroke="#1a1a1a" stroke-width="0.07">6</text>
<line x1="300.60" y1="657.70" x2="304.20" y2="657.70" stroke="#3a3a3a" stroke-width="1.1"/>
<text x="299.40" y="660.30" font-size="7.4" text-anchor="end" fill="#1a1a1a" stroke="#1a1a1a" stroke-width="0.07">4</text>
<line x1="300.60" y1="690.80" x2="304.20" y2="690.80" stroke="#3a3a3a" stroke-width="1.1"/>
<text x="299.40" y="693.40" font-size="7.4" text-anchor="end" fill="#1a1a1a" stroke="#1a1a1a" stroke-width="0.07">2</text>
<line x1="300.60" y1="723.20" x2="304.20" y2="723.20" stroke="#3a3a3a" stroke-width="1.1"/>
<text x="299.40" y="725.80" font-size="7.4" text-anchor="end" fill="#1a1a1a" stroke="#1a1a1a" stroke-width="0.07">0</text>
<line x1="304.20" y1="723.20" x2="352.60" y2="723.20" stroke="#333" stroke-width="1.3"/>
<line x1="318.10" y1="723.20" x2="318.10" y2="727.20" stroke="#3a3a3a" stroke-width="0.9"/>
<line x1="338.60" y1="723.20" x2="338.60" y2="727.20" stroke="#3a3a3a" stroke-width="0.9"/>
<text x="0.00" y="0.00" font-size="8.1" text-anchor="middle" fill="#1a1a1a" stroke="#1a1a1a" stroke-width="0.07" transform="translate(290.30 674.20) rotate(-90)">% of GC B cells</text>
<circle cx="318.10" cy="660.10" r="1.9" fill="#f0201f"/>
<circle cx="318.10" cy="675.50" r="1.9" fill="#f0201f"/>
<circle cx="318.10" cy="680.00" r="1.9" fill="#f0201f"/>
<circle cx="318.10" cy="685.60" r="1.9" fill="#f0201f"/>
<circle cx="318.10" cy="691.10" r="1.9" fill="#f0201f"/>
<line x1="318.10" y1="666.50" x2="318.10" y2="691.50" stroke="#f0201f" stroke-width="0.75"/>
<line x1="311.10" y1="678.50" x2="325.10" y2="678.50" stroke="#f0201f" stroke-width="0.75"/>
<line x1="314.60" y1="666.50" x2="321.60" y2="666.50" stroke="#f0201f" stroke-width="0.75"/>
<line x1="314.60" y1="691.50" x2="321.60" y2="691.50" stroke="#f0201f" stroke-width="0.75"/>
<rect x="336.85" y="673.55" width="3.5" height="3.5" fill="#24942a"/>
<rect x="331.65" y="679.15" width="3.5" height="3.5" fill="#24942a"/>
<rect x="342.05" y="679.85" width="3.5" height="3.5" fill="#24942a"/>
<rect x="336.85" y="681.55" width="3.5" height="3.5" fill="#24942a"/>
<rect x="336.85" y="688.45" width="3.5" height="3.5" fill="#24942a"/>
<line x1="338.60" y1="676.50" x2="338.60" y2="687.50" stroke="#24942a" stroke-width="0.75"/>
<line x1="331.60" y1="681.50" x2="345.60" y2="681.50" stroke="#24942a" stroke-width="0.75"/>
<line x1="335.10" y1="676.50" x2="342.10" y2="676.50" stroke="#24942a" stroke-width="0.75"/>
<line x1="335.10" y1="687.50" x2="342.10" y2="687.50" stroke="#24942a" stroke-width="0.75"/>
<line x1="318.10" y1="654.50" x2="339.20" y2="654.50" stroke="#666" stroke-width="1.25"/>
<text x="328.65" y="653.90" font-size="7.2" text-anchor="middle" fill="#2a2a2a" stroke="#2a2a2a" stroke-width="0.07">ns</text>
<text x="318.10" y="733.60" font-size="6.4" text-anchor="middle" fill="#1a1a1a" stroke="#1a1a1a" stroke-width="0.07">Female</text>
<text x="338.60" y="733.60" font-size="6.4" text-anchor="middle" fill="#1a1a1a" stroke="#1a1a1a" stroke-width="0.07">Male</text>
<line x1="398.80" y1="623.60" x2="398.80" y2="723.00" stroke="#3a3a3a" stroke-width="1.3"/>
<line x1="395.20" y1="624.20" x2="398.80" y2="624.20" stroke="#3a3a3a" stroke-width="1.1"/>
<text x="394.00" y="626.80" font-size="7.8" text-anchor="end" fill="#1a1a1a" stroke="#1a1a1a" stroke-width="0.07">4×10<tspan font-size="4.29" dy="-3.0">4</tspan></text>
<line x1="395.20" y1="649.30" x2="398.80" y2="649.30" stroke="#3a3a3a" stroke-width="1.1"/>
<text x="394.00" y="651.90" font-size="7.8" text-anchor="end" fill="#1a1a1a" stroke="#1a1a1a" stroke-width="0.07">3×10<tspan font-size="4.29" dy="-3.0">4</tspan></text>
<line x1="395.20" y1="674.00" x2="398.80" y2="674.00" stroke="#3a3a3a" stroke-width="1.1"/>
<text x="394.00" y="676.60" font-size="7.8" text-anchor="end" fill="#1a1a1a" stroke="#1a1a1a" stroke-width="0.07">2×10<tspan font-size="4.29" dy="-3.0">4</tspan></text>
<line x1="395.20" y1="698.50" x2="398.80" y2="698.50" stroke="#3a3a3a" stroke-width="1.1"/>
<text x="394.00" y="701.10" font-size="7.8" text-anchor="end" fill="#1a1a1a" stroke="#1a1a1a" stroke-width="0.07">1×10<tspan font-size="4.29" dy="-3.0">4</tspan></text>
<line x1="395.20" y1="723.00" x2="398.80" y2="723.00" stroke="#3a3a3a" stroke-width="1.1"/>
<text x="394.00" y="725.60" font-size="7.8" text-anchor="end" fill="#1a1a1a" stroke="#1a1a1a" stroke-width="0.07">0</text>
<line x1="398.80" y1="723.00" x2="447.60" y2="723.00" stroke="#333" stroke-width="1.3"/>
<line x1="412.60" y1="723.00" x2="412.60" y2="727.00" stroke="#3a3a3a" stroke-width="0.9"/>
<line x1="433.40" y1="723.00" x2="433.40" y2="727.00" stroke="#3a3a3a" stroke-width="0.9"/>
<text x="0.00" y="0.00" font-size="8.2" text-anchor="middle" fill="#1a1a1a" stroke="#1a1a1a" stroke-width="0.07" transform="translate(368.40 674.20) rotate(-90)">No. of GC B cells</text>
<circle cx="412.60" cy="651.10" r="1.9" fill="#f0201f"/>
<circle cx="412.60" cy="653.90" r="1.9" fill="#f0201f"/>
<circle cx="412.60" cy="669.10" r="1.9" fill="#f0201f"/>
<circle cx="412.60" cy="679.90" r="1.9" fill="#f0201f"/>
<circle cx="412.60" cy="688.30" r="1.9" fill="#f0201f"/>
<line x1="412.60" y1="652.50" x2="412.60" y2="684.50" stroke="#f0201f" stroke-width="0.75"/>
<line x1="405.60" y1="668.50" x2="419.60" y2="668.50" stroke="#f0201f" stroke-width="0.75"/>
<line x1="409.10" y1="652.50" x2="416.10" y2="652.50" stroke="#f0201f" stroke-width="0.75"/>
<line x1="409.10" y1="684.50" x2="416.10" y2="684.50" stroke="#f0201f" stroke-width="0.75"/>
<rect x="428.15" y="679.15" width="3.5" height="3.5" fill="#24942a"/>
<rect x="435.15" y="680.05" width="3.5" height="3.5" fill="#24942a"/>
<rect x="428.15" y="683.35" width="3.5" height="3.5" fill="#24942a"/>
<rect x="435.15" y="685.65" width="3.5" height="3.5" fill="#24942a"/>
<rect x="431.65" y="704.25" width="3.5" height="3.5" fill="#24942a"/>
<line x1="433.40" y1="679.50" x2="433.40" y2="698.50" stroke="#24942a" stroke-width="0.75"/>
<line x1="426.40" y1="688.50" x2="440.40" y2="688.50" stroke="#24942a" stroke-width="0.75"/>
<line x1="429.90" y1="679.50" x2="436.90" y2="679.50" stroke="#24942a" stroke-width="0.75"/>
<line x1="429.90" y1="698.50" x2="436.90" y2="698.50" stroke="#24942a" stroke-width="0.75"/>
<line x1="412.60" y1="646.50" x2="434.00" y2="646.50" stroke="#333" stroke-width="1.25"/>
<text x="423.30" y="647.50" font-size="7.5" text-anchor="middle" fill="#2a2a2a" stroke="#2a2a2a" stroke-width="0.07">*</text>
<text x="422.80" y="640.00" font-size="6.6" text-anchor="middle" fill="#2a2a2a" stroke="#2a2a2a" stroke-width="0.07">0.0489</text>
<text x="412.60" y="733.60" font-size="6.4" text-anchor="middle" fill="#1a1a1a" stroke="#1a1a1a" stroke-width="0.07">Female</text>
<text x="433.40" y="733.60" font-size="6.4" text-anchor="middle" fill="#1a1a1a" stroke="#1a1a1a" stroke-width="0.07">Male</text>
<line x1="496.60" y1="624.10" x2="496.60" y2="723.30" stroke="#3a3a3a" stroke-width="1.3"/>
<line x1="493.00" y1="624.70" x2="496.60" y2="624.70" stroke="#3a3a3a" stroke-width="1.1"/>
<text x="491.80" y="627.30" font-size="7.4" text-anchor="end" fill="#1a1a1a" stroke="#1a1a1a" stroke-width="0.07">1.0</text>
<line x1="493.00" y1="644.42" x2="496.60" y2="644.42" stroke="#3a3a3a" stroke-width="1.1"/>
<text x="491.80" y="647.02" font-size="7.4" text-anchor="end" fill="#1a1a1a" stroke="#1a1a1a" stroke-width="0.07">0.8</text>
<line x1="493.00" y1="664.14" x2="496.60" y2="664.14" stroke="#3a3a3a" stroke-width="1.1"/>
<text x="491.80" y="666.74" font-size="7.4" text-anchor="end" fill="#1a1a1a" stroke="#1a1a1a" stroke-width="0.07">0.6</text>
<line x1="493.00" y1="683.86" x2="496.60" y2="683.86" stroke="#3a3a3a" stroke-width="1.1"/>
<text x="491.80" y="686.46" font-size="7.4" text-anchor="end" fill="#1a1a1a" stroke="#1a1a1a" stroke-width="0.07">0.4</text>
<line x1="493.00" y1="703.58" x2="496.60" y2="703.58" stroke="#3a3a3a" stroke-width="1.1"/>
<text x="491.80" y="706.18" font-size="7.4" text-anchor="end" fill="#1a1a1a" stroke="#1a1a1a" stroke-width="0.07">0.2</text>
<line x1="493.00" y1="723.30" x2="496.60" y2="723.30" stroke="#3a3a3a" stroke-width="1.1"/>
<text x="491.80" y="725.90" font-size="7.4" text-anchor="end" fill="#1a1a1a" stroke="#1a1a1a" stroke-width="0.07">0.0</text>
<line x1="496.60" y1="723.30" x2="535.90" y2="723.30" stroke="#333" stroke-width="1.3"/>
<line x1="509.80" y1="723.30" x2="509.80" y2="727.30" stroke="#3a3a3a" stroke-width="0.9"/>
<line x1="530.50" y1="723.30" x2="530.50" y2="727.30" stroke="#3a3a3a" stroke-width="0.9"/>
<text x="0.00" y="0.00" font-size="8.1" text-anchor="middle" fill="#1a1a1a" stroke="#1a1a1a" stroke-width="0.07" transform="translate(476.2 674.3) rotate(-90)">% of T<tspan font-size="5.2" dy="1.6">fh</tspan><tspan dy="-1.6"> cells</tspan></text>
<circle cx="505.30" cy="685.00" r="1.9" fill="#f0201f"/>
<circle cx="514.80" cy="686.70" r="1.9" fill="#f0201f"/>
<circle cx="509.80" cy="689.70" r="1.9" fill="#f0201f"/>
<circle cx="504.80" cy="691.90" r="1.9" fill="#f0201f"/>
<circle cx="514.80" cy="691.90" r="1.9" fill="#f0201f"/>
<line x1="509.80" y1="685.50" x2="509.80" y2="692.50" stroke="#f0201f" stroke-width="0.75"/>
<line x1="502.80" y1="689.50" x2="516.80" y2="689.50" stroke="#f0201f" stroke-width="0.75"/>
<line x1="506.30" y1="685.50" x2="513.30" y2="685.50" stroke="#f0201f" stroke-width="0.75"/>
<line x1="506.30" y1="692.50" x2="513.30" y2="692.50" stroke="#f0201f" stroke-width="0.75"/>
<rect x="528.75" y="668.55" width="3.5" height="3.5" fill="#24942a"/>
<rect x="528.75" y="678.05" width="3.5" height="3.5" fill="#24942a"/>
<rect x="528.75" y="687.25" width="3.5" height="3.5" fill="#24942a"/>
<rect x="528.75" y="691.85" width="3.5" height="3.5" fill="#24942a"/>
<rect x="528.75" y="697.95" width="3.5" height="3.5" fill="#24942a"/>
<line x1="530.50" y1="675.50" x2="530.50" y2="698.50" stroke="#24942a" stroke-width="0.75"/>
<line x1="523.50" y1="686.50" x2="537.50" y2="686.50" stroke="#24942a" stroke-width="0.75"/>
<line x1="527.00" y1="675.50" x2="534.00" y2="675.50" stroke="#24942a" stroke-width="0.75"/>
<line x1="527.00" y1="698.50" x2="534.00" y2="698.50" stroke="#24942a" stroke-width="0.75"/>
<line x1="509.80" y1="662.50" x2="530.50" y2="662.50" stroke="#666" stroke-width="1.25"/>
<text x="520.15" y="661.90" font-size="7.2" text-anchor="middle" fill="#2a2a2a" stroke="#2a2a2a" stroke-width="0.07">ns</text>
<text x="509.80" y="733.60" font-size="6.4" text-anchor="middle" fill="#1a1a1a" stroke="#1a1a1a" stroke-width="0.07">Female</text>
<text x="530.50" y="733.60" font-size="6.4" text-anchor="middle" fill="#1a1a1a" stroke="#1a1a1a" stroke-width="0.07">Male</text>
<line x1="591.60" y1="624.40" x2="591.60" y2="723.00" stroke="#3a3a3a" stroke-width="1.3"/>
<line x1="588.00" y1="625.00" x2="591.60" y2="625.00" stroke="#3a3a3a" stroke-width="1.1"/>
<text x="586.80" y="627.60" font-size="7.8" text-anchor="end" fill="#1a1a1a" stroke="#1a1a1a" stroke-width="0.07">5×10<tspan font-size="4.29" dy="-3.0">3</tspan></text>
<line x1="588.00" y1="644.70" x2="591.60" y2="644.70" stroke="#3a3a3a" stroke-width="1.1"/>
<text x="586.80" y="647.30" font-size="7.8" text-anchor="end" fill="#1a1a1a" stroke="#1a1a1a" stroke-width="0.07">4×10<tspan font-size="4.29" dy="-3.0">3</tspan></text>
<line x1="588.00" y1="664.40" x2="591.60" y2="664.40" stroke="#3a3a3a" stroke-width="1.1"/>
<text x="586.80" y="667.00" font-size="7.8" text-anchor="end" fill="#1a1a1a" stroke="#1a1a1a" stroke-width="0.07">3×10<tspan font-size="4.29" dy="-3.0">3</tspan></text>
<line x1="588.00" y1="684.10" x2="591.60" y2="684.10" stroke="#3a3a3a" stroke-width="1.1"/>
<text x="586.80" y="686.70" font-size="7.8" text-anchor="end" fill="#1a1a1a" stroke="#1a1a1a" stroke-width="0.07">2×10<tspan font-size="4.29" dy="-3.0">3</tspan></text>
<line x1="588.00" y1="703.80" x2="591.60" y2="703.80" stroke="#3a3a3a" stroke-width="1.1"/>
<text x="586.80" y="706.40" font-size="7.8" text-anchor="end" fill="#1a1a1a" stroke="#1a1a1a" stroke-width="0.07">1×10<tspan font-size="4.29" dy="-3.0">3</tspan></text>
<line x1="588.00" y1="723.40" x2="591.60" y2="723.40" stroke="#3a3a3a" stroke-width="1.1"/>
<text x="586.80" y="726.00" font-size="7.8" text-anchor="end" fill="#1a1a1a" stroke="#1a1a1a" stroke-width="0.07">0</text>
<line x1="591.60" y1="723.00" x2="640.70" y2="723.00" stroke="#333" stroke-width="1.3"/>
<line x1="605.40" y1="723.00" x2="605.40" y2="727.00" stroke="#3a3a3a" stroke-width="0.9"/>
<line x1="626.40" y1="723.00" x2="626.40" y2="727.00" stroke="#3a3a3a" stroke-width="0.9"/>
<text x="0.00" y="0.00" font-size="8.1" text-anchor="middle" fill="#1a1a1a" stroke="#1a1a1a" stroke-width="0.07" transform="translate(559.9 673.9) rotate(-90)">No. of T<tspan font-size="5.2" dy="1.6">fh</tspan><tspan dy="-1.6"> cells</tspan></text>
<circle cx="602.40" cy="638.10" r="1.9" fill="#f0201f"/>
<circle cx="608.90" cy="639.40" r="1.9" fill="#f0201f"/>
<circle cx="605.40" cy="647.40" r="1.9" fill="#f0201f"/>
<circle cx="605.40" cy="656.70" r="1.9" fill="#f0201f"/>
<circle cx="605.40" cy="666.40" r="1.9" fill="#f0201f"/>
<line x1="605.40" y1="638.50" x2="605.40" y2="661.50" stroke="#f0201f" stroke-width="0.75"/>
<line x1="598.40" y1="649.50" x2="612.40" y2="649.50" stroke="#f0201f" stroke-width="0.75"/>
<line x1="601.90" y1="638.50" x2="608.90" y2="638.50" stroke="#f0201f" stroke-width="0.75"/>
<line x1="601.90" y1="661.50" x2="608.90" y2="661.50" stroke="#f0201f" stroke-width="0.75"/>
<rect x="621.15" y="664.25" width="3.5" height="3.5" fill="#24942a"/>
<rect x="628.15" y="665.55" width="3.5" height="3.5" fill="#24942a"/>
<rect x="624.65" y="668.55" width="3.5" height="3.5" fill="#24942a"/>
<rect x="628.15" y="684.65" width="3.5" height="3.5" fill="#24942a"/>
<rect x="621.15" y="687.85" width="3.5" height="3.5" fill="#24942a"/>
<line x1="626.40" y1="665.50" x2="626.40" y2="687.50" stroke="#24942a" stroke-width="0.75"/>
<line x1="619.40" y1="676.50" x2="633.40" y2="676.50" stroke="#24942a" stroke-width="0.75"/>
<line x1="622.90" y1="665.50" x2="629.90" y2="665.50" stroke="#24942a" stroke-width="0.75"/>
<line x1="622.90" y1="687.50" x2="629.90" y2="687.50" stroke="#24942a" stroke-width="0.75"/>
<line x1="606.00" y1="633.50" x2="626.80" y2="633.50" stroke="#333" stroke-width="1.25"/>
<text x="616.40" y="635.30" font-size="7.5" text-anchor="middle" fill="#2a2a2a" stroke="#2a2a2a" stroke-width="0.07">**</text>
<text x="613.80" y="627.60" font-size="6.6" text-anchor="middle" fill="#2a2a2a" stroke="#2a2a2a" stroke-width="0.07">0.0066</text>
<text x="605.40" y="733.60" font-size="6.4" text-anchor="middle" fill="#1a1a1a" stroke="#1a1a1a" stroke-width="0.07">Female</text>
<text x="626.40" y="733.60" font-size="6.4" text-anchor="middle" fill="#1a1a1a" stroke="#1a1a1a" stroke-width="0.07">Male</text>
</svg></body></html>
